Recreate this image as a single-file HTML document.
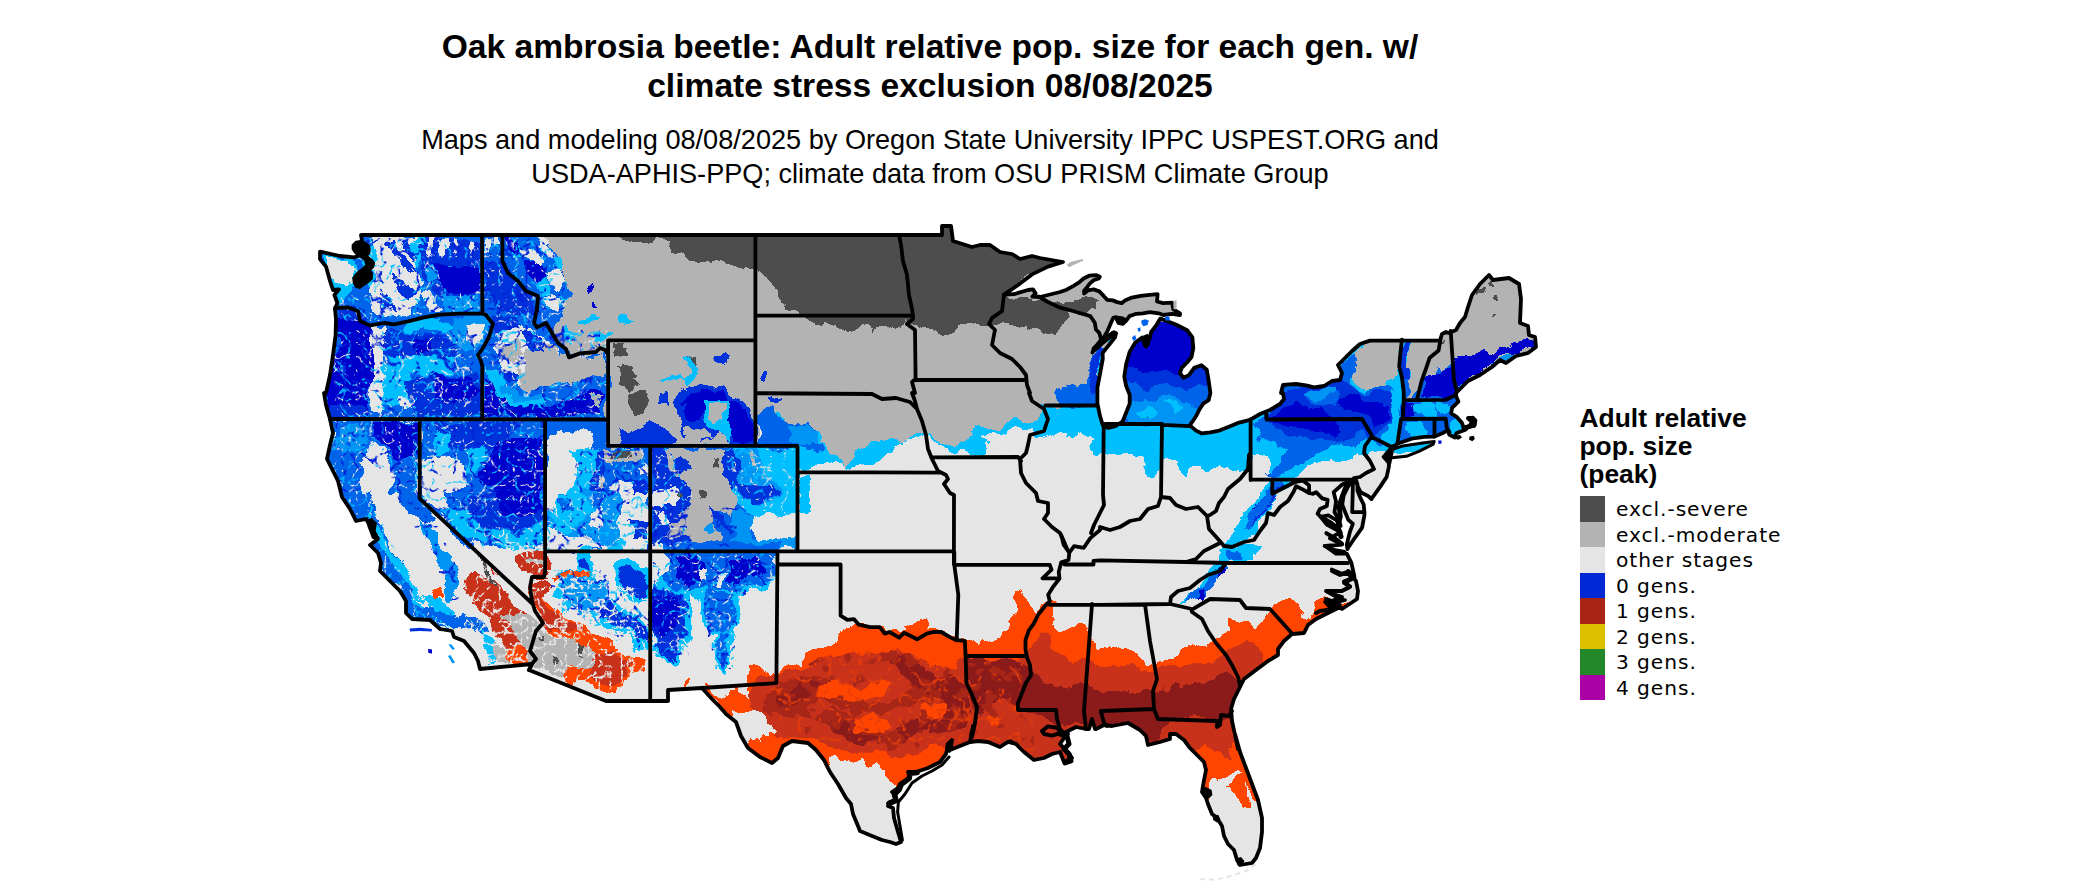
<!DOCTYPE html>
<html><head><meta charset="utf-8"><title>Oak ambrosia beetle</title>
<style>
html,body{margin:0;padding:0;background:#fff;}
body{width:2100px;height:892px;position:relative;overflow:hidden;font-family:"Liberation Sans",sans-serif;color:#000;}
#title{position:absolute;left:330px;width:1200px;top:26.8px;text-align:center;font-weight:bold;font-size:33.6px;line-height:39.4px;}
#sub{position:absolute;left:330px;width:1200px;top:123.3px;text-align:center;font-size:27.13px;line-height:33.3px;}
#legt{position:absolute;left:1579.5px;top:403.5px;font-weight:bold;font-size:26.4px;line-height:28.2px;white-space:nowrap;}
#leg{position:absolute;left:1580px;top:496px;}
#leg div{height:25.5px;position:relative;}
#leg i{position:absolute;left:0;top:0;width:25px;height:25.5px;display:block;}
#leg span{position:absolute;left:36px;top:1px;font-family:"DejaVu Sans","Liberation Sans",sans-serif;font-size:20.2px;letter-spacing:0.93px;line-height:25.5px;white-space:nowrap;}
svg{position:absolute;left:0;top:0;}
</style></head><body>
<div id="title">Oak ambrosia beetle: Adult relative pop. size for each gen. w/<br>climate stress exclusion 08/08/2025</div>
<div id="sub">Maps and modeling 08/08/2025 by Oregon State University IPPC USPEST.ORG and<br>USDA-APHIS-PPQ; climate data from OSU PRISM Climate Group</div>
<div id="legt">Adult relative<br>pop. size<br>(peak)</div>
<div id="leg">
<div><i style="background:#4d4d4d"></i><span>excl.-severe</span></div>
<div><i style="background:#b3b3b3"></i><span>excl.-moderate</span></div>
<div><i style="background:#e5e5e5"></i><span>other stages</span></div>
<div><i style="background:#0028d4"></i><span>0 gens.</span></div>
<div><i style="background:#aa2416"></i><span>1 gens.</span></div>
<div><i style="background:#ddc000"></i><span>2 gens.</span></div>
<div><i style="background:#22882a"></i><span>3 gens.</span></div>
<div><i style="background:#aa00a5"></i><span>4 gens.</span></div>
</div>

<svg width="2100" height="892" viewBox="0 0 2100 892">
<defs><clipPath id="us"><path d="M320.0,251.6 L340.0,256.0 L354.0,257.4 L360.0,255.0 L364.0,249.0 L362.0,240.6 L361.0,235.0 L942.0,235.0 L942.0,226.0 L951.0,226.0 L953.0,241.0 L972.0,247.0 L980.0,245.0 L990.0,245.0 L1000.0,252.0 L1012.0,254.0 L1020.0,259.0 L1032.0,256.0 L1040.0,258.0 L1063.0,262.0 L1048.0,266.6 L1032.0,274.4 L1018.0,285.0 L1004.0,294.6 L1014.0,294.2 L1028.0,290.0 L1033.0,289.4 L1035.6,293.4 L1032.4,296.6 L1040.0,297.0 L1060.0,292.0 L1066.7,289.7 L1073.5,285.8 L1079.1,282.4 L1083.6,278.5 L1089.2,275.7 L1095.9,275.1 L1099.8,276.8 L1098.7,278.5 L1093.6,280.2 L1089.7,283.6 L1086.9,287.5 L1084.1,290.8 L1084.1,293.6 L1088.0,290.3 L1093.6,289.4 L1099.3,291.4 L1103.7,295.9 L1107.1,299.8 L1112.7,300.4 L1117.2,302.1 L1121.7,303.2 L1125.0,300.4 L1131.8,297.6 L1140.7,295.9 L1149.7,294.8 L1157.6,294.2 L1157.0,301.5 L1163.2,303.2 L1172.1,302.6 L1173.3,309.3 L1180.0,313.3 L1180.0,315.0 L1172.1,313.8 L1163.2,315.0 L1158.7,313.3 L1149.7,312.1 L1143.0,313.3 L1136.3,313.8 L1129.5,316.1 L1126.2,320.6 L1122.8,323.9 L1118.3,322.8 L1116.1,317.2 L1113.3,317.8 L1110.5,323.9 L1107.1,331.8 L1103.7,337.4 L1100.4,340.7 L1097.0,345.2 L1093.6,349.7 L1092.5,352.5 L1095.9,346.9 L1100.4,343.2 L1107.1,337.6 L1112.7,333.1 L1116.1,333.1 L1115.0,337.4 L1110.5,343.0 L1106.0,348.6 L1102.6,353.1 L1102.8,358.9 L1100.1,373.3 L1097.4,387.6 L1097.4,403.7 L1100.1,416.3 L1102.8,425.3 L1108.1,428.0 L1115.3,426.2 L1122.5,421.7 L1126.1,412.7 L1129.7,403.7 L1129.7,394.8 L1126.1,385.8 L1124.3,376.8 L1126.1,364.3 L1129.7,351.7 L1135.1,342.8 L1142.2,337.4 L1145.8,346.4 L1149.4,339.2 L1151.2,332.0 L1156.6,324.8 L1160.2,318.6 L1165.5,320.4 L1176.3,324.8 L1187.1,330.2 L1192.4,337.4 L1193.3,348.1 L1191.5,357.1 L1187.1,362.5 L1181.7,367.9 L1179.9,373.3 L1183.5,377.7 L1188.9,375.1 L1194.2,367.9 L1201.4,365.2 L1206.8,369.7 L1208.6,380.4 L1210.4,393.0 L1208.6,400.2 L1203.2,403.7 L1199.6,409.1 L1196.0,416.3 L1192.4,421.7 L1189.7,425.3 L1196.0,430.6 L1201.4,433.3 L1210.4,432.4 L1219.3,430.6 L1230.1,426.2 L1239.1,422.6 L1250.0,419.9 L1260.0,414.0 L1270.0,410.0 L1280.0,404.0 L1284.0,399.0 L1283.0,393.0 L1281.0,393.0 L1283.0,385.0 L1296.0,384.0 L1306.0,385.4 L1314.0,387.4 L1324.0,386.0 L1332.0,381.0 L1340.0,380.0 L1342.0,373.0 L1338.0,365.0 L1348.0,355.0 L1352.0,351.0 L1360.0,344.0 L1370.0,340.6 L1440.0,340.6 L1442.0,334.0 L1446.0,332.0 L1449.0,333.0 L1456.0,330.0 L1460.0,323.0 L1465.0,317.0 L1468.0,307.0 L1472.0,295.0 L1480.0,284.0 L1489.0,275.0 L1493.0,280.0 L1509.0,278.0 L1519.0,284.0 L1521.0,299.0 L1520.0,323.0 L1528.0,326.0 L1529.0,335.0 L1535.0,337.0 L1536.0,347.0 L1528.0,353.0 L1516.0,356.0 L1506.0,363.0 L1500.0,360.0 L1492.0,367.0 L1480.0,375.0 L1468.0,381.0 L1460.0,389.0 L1456.0,393.0 L1455.7,395.3 L1458.4,401.6 L1452.1,407.9 L1451.2,413.3 L1456.6,416.8 L1462.0,423.1 L1463.7,427.6 L1469.1,426.7 L1474.5,425.8 L1475.4,420.4 L1472.7,417.7 L1468.2,418.3 L1471.8,422.2 L1470.9,424.0 L1465.5,429.8 L1456.6,433.0 L1454.8,437.5 L1449.4,434.8 L1447.6,430.3 L1442.2,433.3 L1434.5,436.6 L1424.3,436.9 L1411.7,438.7 L1397.4,443.7 L1392.0,447.7 L1384.8,458.1 L1389.3,463.5 L1392.9,446.1 L1383.6,456.9 L1388.2,458.4 L1389.0,466.1 L1386.7,476.9 L1380.6,486.1 L1372.9,496.8 L1371.4,499.1 L1368.3,496.1 L1360.6,492.2 L1357.5,486.1 L1356.0,479.9 L1357.5,484.5 L1357.5,490.7 L1360.6,498.4 L1363.7,504.5 L1364.4,512.2 L1364.4,515.3 L1362.1,527.6 L1354.5,538.3 L1348.3,547.5 L1347.5,549.1 L1346.8,544.5 L1349.8,532.2 L1352.9,523.7 L1348.3,519.9 L1345.2,512.2 L1342.2,504.5 L1343.7,495.3 L1348.3,486.1 L1354.5,479.6 L1342.2,484.5 L1333.7,492.2 L1336.0,501.4 L1334.5,512.2 L1339.1,519.9 L1340.6,526.0 L1336.0,519.9 L1328.3,515.3 L1320.7,516.8 L1326.8,524.5 L1340.6,532.2 L1329.9,538.3 L1342.2,544.5 L1325.3,546.0 L1336.0,553.7 L1345.2,553.7 L1346.8,553.7 L1351.4,562.9 L1354.5,577.0 L1348.0,571.0 L1356.0,581.0 L1358.0,591.0 L1357.0,599.0 L1342.0,609.0 L1340.0,607.0 L1328.0,613.0 L1316.0,619.0 L1308.0,625.0 L1304.0,633.0 L1292.0,634.0 L1284.0,641.0 L1278.0,649.0 L1278.0,655.0 L1268.0,661.0 L1260.0,667.0 L1252.0,673.0 L1244.0,679.0 L1240.0,687.0 L1234.0,699.0 L1231.0,709.0 L1232.0,721.0 L1235.0,735.0 L1238.0,749.0 L1235.0,734.0 L1240.0,752.0 L1246.0,768.0 L1252.0,784.0 L1258.0,800.0 L1262.0,818.0 L1262.0,832.0 L1260.0,848.0 L1256.0,858.0 L1252.0,863.0 L1240.0,865.0 L1237.0,860.0 L1234.0,850.0 L1228.0,844.0 L1224.0,836.0 L1222.0,826.0 L1217.0,818.0 L1212.0,814.0 L1208.0,804.0 L1206.0,798.0 L1202.0,792.0 L1204.0,780.0 L1206.0,770.0 L1204.0,762.0 L1198.0,756.0 L1190.0,748.0 L1184.0,740.0 L1176.0,734.0 L1170.0,734.0 L1170.0,739.0 L1160.0,742.0 L1148.0,745.0 L1146.0,736.0 L1140.0,730.0 L1128.0,723.0 L1112.0,726.0 L1104.0,725.0 L1096.0,729.0 L1095.0,729.0 L1092.0,719.0 L1089.0,729.0 L1086.0,729.0 L1076.0,727.0 L1064.0,733.0 L1068.0,734.0 L1064.0,738.0 L1060.0,744.0 L1068.0,752.0 L1072.0,758.0 L1064.0,762.0 L1060.0,752.0 L1052.0,754.0 L1044.0,758.0 L1034.0,760.0 L1024.0,752.0 L1016.0,744.0 L1008.0,742.0 L1000.0,747.0 L988.0,742.0 L978.0,741.0 L970.0,742.0 L960.0,746.0 L950.0,750.0 L952.0,740.0 L948.0,744.0 L946.0,754.0 L940.0,762.0 L928.0,768.0 L916.0,772.0 L908.0,772.0 L910.0,778.0 L900.0,784.0 L898.0,788.0 L892.0,792.0 L895.0,794.0 L896.0,800.0 L890.0,802.0 L888.0,806.0 L893.0,808.0 L894.0,818.0 L898.0,832.0 L901.0,842.0 L896.0,844.0 L890.0,842.0 L882.0,840.0 L872.0,836.0 L860.0,831.0 L858.0,826.0 L853.0,814.0 L851.0,804.0 L846.0,798.0 L838.0,784.0 L830.0,772.0 L824.0,760.0 L816.0,750.0 L808.0,743.0 L792.0,741.0 L783.0,746.0 L778.0,758.0 L772.0,763.0 L760.0,757.0 L748.0,748.0 L741.0,736.0 L736.0,722.0 L726.0,714.0 L720.0,707.0 L712.0,699.0 L702.0,688.0 L668.0,690.0 L668.0,701.0 L650.0,701.0 L606.0,701.0 L529.0,670.0 L532.0,664.0 L480.0,669.0 L478.0,661.0 L474.0,653.0 L464.0,641.0 L454.0,637.0 L452.0,631.0 L440.0,629.0 L430.0,620.0 L412.0,619.0 L406.0,613.0 L406.0,601.0 L400.0,591.0 L388.0,579.0 L380.0,571.0 L380.0,571.0 L381.0,563.0 L378.0,553.0 L370.0,545.0 L378.0,539.0 L372.0,529.0 L366.0,519.0 L356.0,521.0 L350.0,509.0 L342.0,497.0 L338.0,481.0 L332.0,469.0 L327.0,459.0 L330.0,445.0 L333.0,433.0 L330.0,419.0 L326.0,405.0 L324.0,393.0 L326.0,393.0 L330.0,375.0 L333.0,355.0 L335.6,335.0 L336.0,319.0 L335.0,309.0 L337.4,303.0 L334.4,295.0 L339.0,289.4 L333.0,290.0 L330.0,281.0 L326.0,266.6 L320.0,259.0Z M1392.0,449.5 L1402.8,445.9 L1422.5,443.0 L1434.2,441.6 L1433.3,444.1 L1418.9,451.3 L1406.4,456.3 L1384.8,458.5 L1387.0,453.6Z"/></clipPath></defs>
<filter id="rough" x="280" y="200" width="1300" height="692" filterUnits="userSpaceOnUse" color-interpolation-filters="sRGB"><feTurbulence type="fractalNoise" baseFrequency="0.045" numOctaves="4" seed="7" result="n"/><feDisplacementMap in="SourceGraphic" in2="n" scale="17" xChannelSelector="R" yChannelSelector="G"/></filter>
<g clip-path="url(#us)"><g filter="url(#rough)" shape-rendering="crispEdges">
<rect x="250" y="170" width="1360" height="760" fill="#e5e5e5"/>
<path fill="#00bfff" d="M775.0,200.0 L775.0,470.0 L797.4,470.0 L810.0,467.0 L824.0,462.0 L840.0,463.4 L848.0,470.0 L860.0,465.4 L872.0,463.0 L876.0,460.0 L886.0,459.0 L896.0,457.0 L900.0,445.0 L912.0,437.4 L922.0,432.4 L930.0,436.0 L940.0,447.0 L946.0,451.0 L956.0,454.0 L960.0,449.4 L976.0,453.0 L986.0,451.0 L988.0,443.0 L980.0,435.4 L996.0,433.0 L1010.0,435.0 L1018.0,429.0 L1032.0,431.0 L1034.0,441.0 L1048.0,439.0 L1060.0,435.0 L1072.0,436.0 L1086.0,433.0 L1094.0,439.0 L1088.0,449.0 L1096.0,455.0 L1103.0,453.0 L1140.0,455.0 L1148.0,473.0 L1154.0,477.0 L1160.0,469.0 L1166.0,461.0 L1176.0,461.0 L1180.0,471.0 L1186.0,479.0 L1190.0,469.0 L1200.0,465.0 L1208.0,471.0 L1220.0,467.0 L1230.0,467.0 L1236.0,473.0 L1244.0,469.0 L1250.6,463.0 L1254.0,457.0 L1264.0,455.0 L1270.0,463.0 L1268.0,477.0 L1264.0,487.0 L1256.0,501.0 L1244.0,513.0 L1232.0,533.0 L1220.0,553.0 L1214.0,565.0 L1180.0,603.0 L1190.0,601.0 L1200.0,591.0 L1208.0,579.0 L1228.0,563.0 L1234.0,553.0 L1240.0,545.0 L1248.0,537.0 L1258.0,529.0 L1264.0,517.0 L1272.0,505.0 L1280.0,495.0 L1288.0,487.0 L1292.0,478.0 L1300.0,473.0 L1310.0,463.0 L1320.0,459.0 L1332.0,457.0 L1340.0,461.0 L1348.0,459.0 L1356.0,455.0 L1364.0,457.0 L1370.0,455.0 L1372.0,451.0 L1380.0,449.0 L1388.0,453.0 L1400.0,453.0 L1560.0,450.0 L1560.0,200.0Z"/>
<path fill="#0064ea" d="M300.0,200.0 L640.0,200.0 L640.0,445.0 L797.0,445.0 L797.0,551.0 L545.0,551.0 L545.0,548.0 L470.0,548.0 L419.5,500.0 L419.5,419.0 L300.0,419.0Z"/>
<path fill="#b3b3b3" d="M536.0,200.0 L536.0,235.0 L554.0,249.0 L560.0,267.0 L568.0,283.0 L572.0,295.0 L568.0,309.0 L560.0,319.0 L552.0,333.0 L558.0,343.0 L566.0,349.0 L569.0,357.4 L580.0,355.0 L596.0,353.0 L608.0,354.2 L608.1,445.9 L755.4,445.9 L755.0,416.0 L770.0,415.0 L780.0,412.0 L788.0,423.0 L804.0,431.0 L816.0,433.0 L826.0,447.0 L840.0,459.0 L846.0,469.0 L852.0,449.0 L868.0,445.0 L880.0,437.0 L900.0,436.0 L904.0,443.0 L912.0,433.0 L922.0,431.0 L930.0,433.0 L940.0,445.0 L956.0,447.0 L968.0,439.0 L972.0,429.0 L986.0,427.0 L1000.0,430.0 L1016.0,421.0 L1032.0,423.0 L1038.0,413.0 L1040.0,407.4 L1040.0,405.5 L1098.3,405.5 L1104.6,351.7 L1111.7,333.8 L1126.1,321.2 L1147.6,315.0 L1165.5,315.9 L1183.5,315.9 L1183.5,280.0 L1200.0,200.0Z"/>
<path fill="#b3b3b3" d="M1349.0,361.2 L1359.7,346.9 L1370.5,338.8 L1401.0,338.8 L1399.2,355.9 L1398.3,366.6 L1397.4,373.8 L1393.8,381.0 L1388.4,381.9 L1383.0,390.8 L1368.7,388.1 L1354.3,381.0 L1347.2,372.0Z M1409.0,338.8 L1440.4,338.8 L1438.6,350.5 L1429.7,357.7 L1426.1,368.4 L1422.5,379.2 L1415.3,381.0 L1411.7,391.7 L1407.3,397.1 L1407.3,379.2 L1408.1,364.8 L1409.0,352.3Z M1440.4,338.8 L1443.1,332.6 L1451.2,329.9 L1453.0,363.0 L1447.6,364.8 L1442.2,370.2 L1436.8,366.6 L1433.3,373.8 L1427.9,379.2 L1424.3,373.8 L1429.7,357.7 L1438.6,350.5Z M1450.7,248.3 L1550.0,248.3 L1550.0,373.8 L1454.8,380.1 L1453.0,363.0 L1450.7,329.9Z"/>
<path fill="#4d4d4d" d="M618.0,215.0 L618.0,235.0 L624.0,240.0 L640.0,242.0 L652.0,245.0 L660.0,240.0 L668.0,242.0 L670.0,250.0 L682.0,252.0 L688.0,258.0 L700.0,262.0 L720.0,263.0 L740.0,266.0 L755.0,270.0 L766.0,281.0 L778.0,291.0 L786.0,303.0 L788.0,311.0 L800.0,313.0 L810.0,318.0 L824.0,323.0 L844.0,330.0 L860.0,325.0 L874.0,334.0 L890.0,327.0 L906.0,319.0 L912.0,322.0 L928.0,327.0 L940.0,333.0 L956.0,330.0 L960.0,325.0 L988.0,322.0 L996.0,323.0 L1016.0,329.0 L1028.0,327.0 L1044.0,334.0 L1060.0,330.0 L1070.0,319.0 L1068.0,313.0 L1090.0,311.0 L1099.0,303.0 L1096.0,297.0 L1072.0,301.0 L1048.0,303.0 L1040.0,299.0 L1032.0,304.0 L1024.0,298.0 L1004.0,299.0 L1020.0,283.0 L1064.0,261.0 L1064.0,195.0Z"/>
<path fill="#00bfff" d="M321.3,253.5 L350.3,256.6 L357.9,265.7 L356.4,284.0 L345.7,291.6 L338.1,305.4 L335.1,311.5 L332.0,293.2 L325.9,270.3Z"/>
<path fill="#e5e5e5" d="M325.9,256.6 L345.7,258.1 L353.4,265.7 L351.8,281.0 L342.7,284.0 L333.5,277.9 L327.4,265.7Z"/>
<path fill="#e5e5e5" d="M371.6,238.3 L422.0,237.5 L420.4,250.5 L412.8,265.7 L418.9,281.0 L422.0,293.2 L415.9,305.4 L406.7,314.5 L391.5,317.6 L379.3,317.6 L371.6,305.4 L368.6,288.6 L376.2,273.4 L371.6,258.1Z"/>
<path fill="#00bfff" d="M365.5,250.5 L373.2,247.4 L376.2,273.4 L368.6,288.6 L364.0,277.9Z M409.8,239.8 L422.0,238.3 L422.0,255.1 L415.9,265.7 L411.3,253.5Z"/>
<path fill="#0032dc" d="M385.4,245.9 L394.5,244.4 L409.8,259.6 L415.9,270.3 L406.7,270.3 L397.6,258.1Z M391.5,277.9 L406.7,281.0 L418.9,291.6 L409.8,296.2 L397.6,288.6Z M379.3,293.2 L391.5,299.3 L397.6,311.5 L385.4,311.5Z M400.6,241.3 L406.7,239.8 L418.9,255.1 L412.8,258.1Z M339.6,308.4 L361.0,305.4 L371.6,317.6 L364.0,323.7 L345.7,320.6Z"/>
<path fill="#0032dc" d="M422.0,258.1 L437.2,253.5 L480.6,255.1 L480.6,305.4 L460.1,305.4 L444.8,299.3 L429.6,293.2 L420.4,281.0Z M422.0,237.5 L480.6,237.5 L480.6,256.6 L422.0,259.6Z"/>
<path fill="#0000cd" d="M434.1,265.7 L446.3,262.7 L467.7,265.7 L480.6,270.3 L480.6,291.6 L467.7,293.2 L452.4,291.6 L437.2,285.5 L431.1,274.9Z"/>
<path fill="#e5e5e5" d="M426.5,237.5 L432.6,237.5 L434.1,255.1 L428.0,256.6Z M441.8,237.5 L446.3,237.5 L447.1,252.0 L442.5,253.5Z M454.0,237.5 L458.5,237.5 L458.5,250.5 L454.7,250.5Z M467.7,237.5 L472.3,237.5 L472.3,249.0 L468.4,249.0Z M422.0,293.2 L429.6,294.7 L443.3,309.9 L437.2,311.5 L425.0,302.3Z"/>
<path fill="#0094f5" d="M443.3,293.2 L467.7,294.7 L480.6,293.2 L480.6,311.5 L444.8,313.0Z M425.0,270.3 L434.1,265.7 L434.1,284.0 L425.0,287.1Z"/>
<path fill="#e5e5e5" d="M485.2,237.5 L490.5,237.5 L491.3,250.5 L486.0,252.0Z M494.4,237.5 L499.7,237.5 L500.5,247.4 L495.1,249.0Z"/>
<path fill="#0032dc" d="M484.5,258.1 L502.7,262.7 L513.4,281.0 L528.7,296.2 L534.8,311.5 L521.0,317.6 L505.8,311.5 L495.1,296.2 L484.5,288.6Z"/>
<path fill="#e5e5e5" d="M521.0,247.4 L531.7,245.9 L543.9,259.6 L537.8,264.2 L525.6,256.6Z M547.0,270.3 L559.1,268.8 L568.3,284.0 L559.1,291.6 L550.0,284.0Z M542.4,296.2 L556.1,293.2 L568.3,299.3 L559.1,311.5 L547.0,308.4Z M537.8,238.3 L550.0,244.4 L556.1,259.6 L548.5,258.1 L540.9,247.4Z"/>
<path fill="#00bfff" d="M510.4,244.4 L519.5,242.9 L524.1,258.1 L513.4,259.6Z M537.8,281.0 L547.0,277.9 L550.0,293.2 L540.9,296.2Z M550.0,258.1 L559.1,259.6 L563.7,270.3 L556.1,268.8Z"/>
<path fill="#0000cd" d="M528.7,264.2 L540.9,262.7 L547.0,273.4 L537.8,281.0 L528.7,274.9Z M505.8,239.8 L516.5,238.3 L519.5,250.5 L510.4,253.5Z"/>
<path fill="#00bfff" d="M574.0,320.0 L588.0,315.0 L598.0,316.0 L594.0,320.0 L580.0,324.0Z M614.0,316.0 L626.0,312.0 L636.0,318.0 L624.0,322.0Z M590.0,334.0 L610.0,331.0 L616.0,335.0 L596.0,340.0Z M566.0,327.0 L576.0,335.0 L572.0,345.0 L564.0,339.0Z"/>
<path fill="#0000cd" d="M588.0,287.0 L592.0,285.0 L593.0,291.0 L589.0,292.0Z M594.0,303.0 L598.0,303.0 L598.0,309.0 L594.0,309.0Z"/>
<path fill="#e5e5e5" d="M500.0,333.0 L520.0,327.0 L540.0,335.0 L556.0,351.0 L566.0,367.0 L560.0,383.0 L540.0,387.0 L520.0,385.0 L504.0,367.0 L498.0,347.0Z"/>
<path fill="#b3b3b3" d="M502.0,343.0 L516.0,339.0 L520.0,355.0 L508.0,363.0Z M524.0,363.0 L548.0,355.0 L564.0,371.0 L556.0,385.0 L536.0,387.0 L520.0,379.0Z M538.0,337.0 L552.0,343.0 L556.0,355.0 L544.0,353.0Z"/>
<path fill="#4d4d4d" d="M546.0,369.0 L554.0,371.0 L552.0,379.0 L545.0,377.0Z M524.0,361.0 L528.0,360.0 L529.0,367.0 L525.0,368.0Z"/>
<path fill="#0032dc" d="M520.0,331.0 L536.0,335.0 L546.0,351.0 L536.0,355.0 L524.0,345.0Z M508.0,369.0 L520.0,375.0 L516.0,385.0 L506.0,381.0Z M492.0,315.0 L512.0,319.0 L520.0,327.0 L500.0,333.0 L490.0,327.0Z"/>
<path fill="#00bfff" d="M490.0,367.0 L504.0,369.0 L508.0,385.0 L496.0,391.0 L488.0,381.0Z"/>
<path fill="#0000cd" d="M482.9,378.9 L516.5,406.3 L559.1,404.8 L589.6,386.5 L603.4,394.1 L603.4,417.0 L482.9,417.0Z"/>
<path fill="#00bfff" d="M486.0,365.1 L496.6,374.3 L502.7,391.1 L525.6,399.4 L543.9,397.2 L547.0,401.7 L528.7,407.1 L501.2,401.7 L489.0,383.4Z"/>
<path fill="#0094f5" d="M498.2,386.5 L525.6,394.9 L542.4,394.1 L542.4,399.4 L525.6,402.5 L501.2,397.2Z"/>
<path fill="#b3b3b3" d="M508.8,356.0 L589.6,356.0 L603.4,365.1 L603.4,377.3 L586.6,372.8 L568.3,386.5 L559.1,381.9 L543.9,374.3 L528.7,383.4 L519.5,378.9 L513.4,365.1Z"/>
<path fill="#e5e5e5" d="M513.4,359.0 L537.8,357.5 L547.0,365.1 L528.7,372.8 L516.5,368.2Z"/>
<path fill="#4d4d4d" d="M543.9,368.2 L553.0,368.2 L553.0,374.3 L545.4,374.3Z"/>
<path fill="#0032dc" d="M568.3,365.1 L589.6,362.1 L589.6,371.2 L574.4,375.8Z"/>
<path fill="#b3b3b3" d="M588.1,391.1 L598.8,394.1 L603.4,409.4 L595.7,407.8Z"/>
<path fill="#0000cd" d="M330.5,356.0 L371.6,356.0 L371.6,386.5 L367.1,417.0 L329.0,417.0 L324.4,398.7 L329.0,378.9Z M336.6,317.6 L364.0,323.7 L371.6,326.7 L371.6,356.0 L335.1,356.0Z"/>
<path fill="#0032dc" d="M330.5,401.7 L367.1,401.7 L367.1,417.0 L329.0,417.0Z"/>
<path fill="#e5e5e5" d="M371.6,356.0 L385.4,356.0 L386.9,378.9 L380.8,409.4 L371.6,409.4Z M371.6,326.7 L382.3,325.2 L385.4,356.0 L371.6,356.0Z"/>
<path fill="#00bfff" d="M385.4,365.1 L406.7,368.2 L415.9,380.4 L406.7,401.7 L391.5,406.3 L382.3,401.7 L386.9,378.9Z M406.7,320.6 L437.2,317.6 L452.4,323.7 L446.3,332.8 L422.0,331.3 L406.7,329.8Z M391.5,356.0 L452.4,356.0 L452.4,371.2 L437.2,378.9 L415.9,374.3 L399.1,368.2Z"/>
<path fill="#0032dc" d="M382.3,329.8 L406.7,331.3 L437.2,335.9 L452.4,342.0 L452.4,356.0 L385.4,356.0Z M406.7,378.9 L437.2,375.8 L479.9,374.3 L479.9,417.0 L415.9,417.0 L409.8,401.7Z"/>
<path fill="#0000cd" d="M437.2,377.3 L467.7,375.8 L475.3,394.1 L452.4,406.3 L434.1,395.6Z M406.7,335.9 L431.1,338.9 L437.2,351.1 L415.9,354.1Z"/>
<path fill="#e5e5e5" d="M466.2,328.2 L478.4,326.7 L484.5,335.9 L475.3,342.0 L466.2,337.4Z M397.6,398.7 L406.7,397.2 L409.8,407.8 L400.6,409.4Z"/>
<path fill="#0094f5" d="M452.4,317.6 L490.5,314.5 L487.5,326.7 L482.9,345.0 L467.7,351.1 L452.4,342.0Z"/>
<path fill="#e5e5e5" d="M466.2,328.2 L478.4,326.7 L484.5,335.9 L475.3,342.0 L466.2,337.4Z"/>
<path fill="#0064ea" d="M329.0,420.0 L417.4,420.0 L417.4,492.0 L391.5,492.0 L391.5,462.7 L385.4,447.5 L373.2,441.4 L364.0,447.5 L357.9,462.7 L361.0,492.0 L339.6,492.0 L325.9,462.7 L333.5,441.4Z"/>
<path fill="#0000cd" d="M373.2,421.5 L417.4,421.5 L417.4,453.6 L397.6,456.6 L382.3,441.4 L373.2,435.3Z"/>
<path fill="#0094f5" d="M338.1,427.6 L361.0,424.6 L367.1,441.4 L350.3,450.5 L336.6,441.4Z"/>
<path fill="#0064ea" d="M338.1,492.0 L368.6,492.0 L379.3,519.4 L391.5,540.8 L403.7,565.2 L415.9,589.6 L422.0,607.9 L437.2,623.1 L452.4,628.0 L409.8,628.0 L403.7,607.9 L397.6,589.6 L379.3,568.2 L376.2,553.0 L365.5,531.6 L353.4,516.4Z"/>
<path fill="#00bfff" d="M367.1,501.1 L376.2,522.5 L391.5,543.8 L406.7,571.3 L420.4,598.7 L425.0,610.9 L420.4,607.9 L403.7,577.4 L388.4,553.0 L373.2,530.1Z"/>
<path fill="#0064ea" d="M397.6,492.0 L420.4,492.0 L420.4,501.1 L437.2,521.0 L431.1,527.1 L415.9,516.4 L403.7,507.2Z"/>
<path fill="#0094f5" d="M418.9,519.4 L437.2,534.7 L449.4,556.0 L458.5,577.4 L454.0,598.7 L446.3,601.8 L444.8,577.4 L437.2,557.5 L425.0,537.7Z"/>
<path fill="#0064ea" d="M408.0,605.0 L424.0,609.0 L452.0,613.0 L480.0,621.0 L490.0,629.0 L480.0,633.0 L456.0,625.0 L430.0,621.0 L412.0,619.0Z"/>
<path fill="#00bfff" d="M480.0,631.0 L492.0,635.0 L500.0,655.0 L496.0,667.0 L488.0,665.0 L486.0,647.0Z M420.0,597.0 L440.0,601.0 L452.0,613.0 L430.0,611.0Z"/>
<path fill="#c8321a" d="M464.6,577.4 L479.9,574.3 L492.1,586.5 L504.3,595.7 L498.2,607.9 L482.9,601.8 L467.7,592.6Z M473.8,598.7 L498.2,607.9 L513.4,601.8 L525.6,614.0 L516.5,623.1 L498.2,620.0 L479.9,610.9Z M489.0,556.0 L501.2,559.1 L504.3,571.3 L495.1,574.3Z M466.0,579.0 L492.0,577.0 L502.0,591.0 L516.0,605.0 L520.0,619.0 L504.0,617.0 L488.0,605.0 L472.0,595.0Z M490.0,617.0 L512.0,621.0 L524.0,637.0 L528.0,655.0 L516.0,661.0 L508.0,647.0 L496.0,631.0Z"/>
<path fill="#b3b3b3" d="M500.0,615.0 L520.0,613.0 L538.0,621.0 L534.0,637.0 L530.0,651.0 L520.0,643.0 L512.0,627.0Z M492.0,637.0 L508.0,647.0 L510.0,664.0 L500.0,664.6 L494.0,651.0Z"/>
<path fill="#ff4500" d="M508.0,647.0 L520.0,643.0 L530.0,657.0 L528.0,664.0 L510.0,663.4Z M429.6,597.2 L443.3,592.6 L444.8,598.7 L432.6,601.8Z"/>
<path fill="#4d4d4d" d="M476.8,556.0 L482.9,557.5 L495.1,583.5 L498.2,589.6 L492.1,588.0 L482.9,571.3Z"/>
<path fill="#0032dc" d="M437.2,421.5 L513.4,421.5 L510.4,441.4 L482.9,450.5 L452.4,447.5 L434.1,435.3Z"/>
<path fill="#0000cd" d="M498.2,439.8 L542.4,435.3 L542.4,492.0 L490.5,492.0 L482.9,471.9 L489.0,453.6Z"/>
<path fill="#e5e5e5" d="M422.0,462.7 L437.2,456.6 L452.4,462.7 L467.7,471.9 L464.6,487.1 L452.4,492.0 L422.0,492.0Z"/>
<path fill="#00bfff" d="M434.1,435.3 L446.3,432.2 L449.4,453.6 L437.2,456.6Z M467.7,450.5 L482.9,447.5 L479.9,471.9 L467.7,474.9Z"/>
<path fill="#0032dc" d="M467.7,492.0 L542.4,492.0 L542.4,522.5 L513.4,531.6 L482.9,525.5 L467.7,510.3Z"/>
<path fill="#0000cd" d="M490.5,492.0 L542.4,492.0 L542.4,510.3 L513.4,519.4 L498.2,510.3Z"/>
<path fill="#00bfff" d="M437.2,504.2 L467.7,510.3 L482.9,527.1 L513.4,533.2 L542.4,524.0 L542.4,542.3 L513.4,549.9 L490.5,543.8 L467.7,537.7 L446.3,519.4Z"/>
<path fill="#e5e5e5" d="M422.0,492.0 L444.8,492.0 L452.4,505.7 L437.2,508.8 L423.5,501.1Z M472.3,542.3 L490.5,545.4 L513.4,551.5 L542.4,543.8 L550.0,577.4 L531.7,601.8Z"/>
<path fill="#c8321a" d="M525.6,549.9 L542.4,548.4 L550.0,565.2 L543.9,577.4 L534.8,577.4 L521.0,571.3 L516.5,559.1Z"/>
<path fill="#b3b3b3" d="M528.7,562.1 L539.3,559.1 L540.9,565.2 L531.7,566.7Z"/>
<path fill="#e5e5e5" d="M547.0,432.2 L571.3,429.2 L589.6,435.3 L592.7,462.7 L586.6,492.0 L547.0,492.0Z"/>
<path fill="#e5e5e5" d="M546.1,447.6 L570.5,447.6 L579.6,462.9 L570.5,493.4 L558.3,501.0 L546.1,497.9Z"/>
<path fill="#00bfff" d="M570.5,447.6 L601.0,447.6 L597.9,470.5 L585.7,493.4 L570.5,493.4 L579.6,462.9Z M546.1,501.0 L570.5,497.9 L567.4,525.4 L546.1,531.5Z"/>
<path fill="#0032dc" d="M597.9,449.1 L607.1,449.1 L607.1,485.7 L597.9,510.1 L585.7,537.6 L573.5,546.7 L570.5,531.5 L585.7,501.0 L593.4,478.1Z"/>
<path fill="#b3b3b3" d="M607.1,447.6 L646.7,447.6 L646.7,459.8 L631.5,461.3 L607.1,458.3Z M601.0,475.1 L607.1,475.1 L605.5,490.3 L601.0,490.3Z M591.8,507.1 L597.9,507.1 L597.9,525.4 L591.8,525.4Z"/>
<path fill="#4d4d4d" d="M614.7,449.1 L634.5,449.1 L634.5,455.2 L614.7,455.2Z"/>
<path fill="#e5e5e5" d="M611.6,485.7 L631.5,482.7 L649.8,485.7 L649.8,551.3 L601.0,551.3 L604.0,525.4 L616.2,504.0Z M634.5,465.9 L646.7,465.9 L646.7,475.1 L634.5,475.1Z"/>
<path fill="#0032dc" d="M628.4,522.3 L646.7,522.3 L646.7,537.6 L631.5,539.1Z M629.9,479.6 L648.2,481.2 L646.7,493.4 L634.5,493.4Z"/>
<path fill="#00bfff" d="M604.0,534.5 L619.3,531.5 L625.4,546.7 L607.1,549.8Z"/>
<path fill="#e5e5e5" d="M546.1,534.5 L564.4,531.5 L576.6,537.6 L570.5,551.3 L546.1,551.3Z"/>
<path fill="#0032dc" d="M651.3,447.6 L666.5,447.6 L666.5,461.3 L674.1,475.1 L686.3,479.6 L692.4,491.8 L686.3,507.1 L677.2,507.1 L677.2,488.8 L652.8,488.8Z M652.8,507.1 L686.3,507.1 L680.2,522.3 L666.5,526.9 L668.0,537.6 L692.4,537.6 L698.5,551.3 L651.3,551.3Z"/>
<path fill="#e5e5e5" d="M652.8,488.8 L677.2,488.8 L677.2,507.1 L652.8,507.1Z M652.8,510.1 L662.0,510.1 L671.1,525.4 L662.0,525.4Z"/>
<path fill="#00bfff" d="M724.5,447.6 L797.6,447.6 L797.6,516.2 L753.4,519.3 L738.2,505.5 L730.5,490.3 L727.5,470.5Z"/>
<path fill="#0094f5" d="M727.5,449.1 L761.0,449.1 L768.7,470.5 L783.9,493.4 L768.7,504.0 L741.2,504.0 L732.1,485.7Z M736.6,537.6 L797.6,537.6 L797.6,551.3 L722.9,551.3Z M730.5,507.1 L753.4,519.3 L751.9,537.6 L736.6,537.6Z"/>
<path fill="#0032dc" d="M736.6,485.7 L753.4,482.7 L771.7,485.7 L780.9,493.4 L768.7,501.0 L753.4,504.0 L741.2,501.0Z M722.9,449.1 L736.6,449.1 L738.2,485.7 L730.5,490.3Z"/>
<path fill="#e5e5e5" d="M753.4,519.3 L765.6,513.2 L777.8,516.2 L790.0,513.2 L797.6,516.2 L797.6,537.6 L777.8,540.6 L759.5,539.1 L751.9,531.5Z"/>
<path fill="#b3b3b3" d="M668.0,449.1 L722.9,449.1 L727.5,470.5 L730.5,490.3 L738.2,505.5 L730.5,513.2 L715.3,507.1 L712.3,522.3 L722.9,537.6 L721.4,549.8 L698.5,549.8 L692.4,537.6 L668.0,537.6 L666.5,526.9 L680.2,522.3 L686.3,507.1 L692.4,491.8 L686.3,479.6 L674.1,475.1 L666.5,461.3Z M747.3,455.2 L753.4,455.2 L756.5,465.9 L750.4,465.9Z M761.0,469.0 L767.1,469.0 L767.1,475.1 L761.0,475.1Z"/>
<path fill="#4d4d4d" d="M712.3,458.3 L721.4,456.8 L721.4,464.4 L713.8,465.9Z M700.1,493.4 L706.2,493.4 L706.2,501.0 L700.1,501.0Z M672.6,494.9 L680.2,494.9 L680.2,499.5 L672.6,499.5Z"/>
<path fill="#0032dc" d="M707.7,507.1 L715.3,507.1 L735.1,531.5 L730.5,534.5 L722.9,525.4Z M674.1,459.8 L686.3,458.3 L692.4,470.5 L680.2,475.1Z"/>
<path fill="#0094f5" d="M704.6,525.4 L712.3,522.3 L716.8,531.5 L707.7,534.5Z"/>
<path fill="#00bfff" d="M799.1,475.1 L808.3,475.1 L809.8,513.2 L799.1,513.2Z"/>
<path fill="#00bfff" d="M652.9,543.8 L775.6,543.8 L775.6,578.7 L765.4,585.6 L750.0,590.7 L739.8,597.5 L739.8,621.3 L733.0,638.4 L731.3,655.4 L726.2,672.5 L715.9,665.6 L712.5,645.2 L714.2,635.0 L704.0,626.5 L698.9,602.6 L690.4,594.1 L690.4,611.1 L692.1,633.3 L687.0,645.2 L678.5,662.2 L666.5,662.2 L654.6,652.0 L652.9,628.2Z"/>
<path fill="#0064ea" d="M663.1,543.8 L775.6,543.8 L775.6,575.3 L765.4,580.4 L750.0,585.6 L736.4,592.4 L707.4,585.6 L690.4,589.0 L673.3,585.6 L663.1,577.0Z M707.4,585.6 L731.3,594.1 L736.4,619.6 L729.6,635.0 L724.5,641.8 L729.6,655.4 L724.5,669.0 L717.6,662.2 L715.9,645.2 L717.6,635.0 L707.4,624.7 L704.0,602.6Z"/>
<path fill="#0032dc" d="M652.9,585.6 L666.5,585.6 L680.2,592.4 L687.0,607.7 L683.6,628.2 L688.7,631.6 L683.6,641.8 L676.8,658.8 L668.2,660.5 L656.3,648.6 L652.9,628.2Z"/>
<path fill="#0000cd" d="M656.3,594.1 L673.3,594.1 L680.2,611.1 L673.3,631.6 L659.7,635.0 L654.6,614.5Z M673.3,553.2 L698.9,556.6 L707.4,577.0 L690.4,583.9 L676.8,577.0Z M724.5,560.0 L758.5,556.6 L767.1,570.2 L741.5,582.2 L727.9,580.4Z"/>
<path fill="#e5e5e5" d="M652.9,543.8 L664.8,543.8 L666.5,570.2 L656.3,582.2 L652.9,582.2Z M697.2,570.2 L707.4,570.2 L705.7,580.4 L697.2,580.4Z M717.6,573.6 L724.5,573.6 L724.5,585.6 L717.6,585.6Z"/>
<path fill="#ff4500" d="M746.6,665.6 L758.5,663.9 L765.4,675.9 L775.6,677.6 L775.6,684.4 L748.3,682.7Z M680.2,686.1 L690.4,675.9 L690.4,682.7 L683.6,687.8Z M704.0,686.1 L709.1,686.9 L726.2,708.2 L729.6,713.3 L722.8,713.3Z M733.0,686.1 L736.4,686.1 L743.2,706.5 L739.8,706.5Z"/>
<path fill="#00bfff" d="M554.1,594.1 L562.6,575.3 L579.6,571.9 L595.0,580.4 L603.5,595.8 L615.4,607.7 L630.8,616.2 L647.8,626.5 L651.2,645.2 L637.6,648.6 L627.3,638.4 L613.7,629.9 L596.7,621.3 L583.0,607.7 L571.1,606.0 L560.9,611.1Z M608.6,565.1 L629.0,560.0 L647.8,566.8 L651.2,595.8 L639.3,607.7 L627.3,592.4 L617.1,582.2Z M576.2,548.1 L589.9,548.1 L591.6,573.6 L579.6,571.9Z"/>
<path fill="#0032dc" d="M562.6,592.4 L567.7,580.4 L577.9,577.0 L591.6,583.9 L600.1,599.2 L612.0,611.1 L629.0,619.6 L646.1,629.9 L647.8,640.1 L639.3,641.8 L629.0,633.3 L615.4,624.7 L598.4,616.2 L584.7,602.6 L571.1,600.9Z M615.4,568.5 L629.0,565.1 L644.4,571.9 L647.8,594.1 L639.3,602.6 L629.0,589.0 L620.5,580.4Z M578.8,560.0 L588.2,560.0 L589.0,570.2 L581.3,569.4Z"/>
<path fill="#ff4500" d="M530.2,577.0 L545.6,602.6 L567.7,616.2 L588.2,628.2 L608.6,640.1 L625.6,652.0 L646.1,658.8 L646.1,672.5 L629.0,669.0 L615.4,696.3 L566.0,679.3 L566.0,669.0 L584.7,662.2 L571.1,641.8 L554.1,635.0 L540.4,623.0 L530.2,602.6Z"/>
<path fill="#b3b3b3" d="M520.0,617.9 L540.4,624.7 L554.1,636.7 L571.1,641.8 L591.6,645.2 L595.0,655.4 L588.2,669.0 L571.1,669.0 L564.3,677.6 L528.5,665.6Z"/>
<path fill="#c8321a" d="M593.3,655.4 L613.7,648.6 L629.0,662.2 L615.4,686.1 L595.0,682.7 L588.2,670.8Z M540.4,604.3 L564.3,617.9 L584.7,631.6 L576.2,635.0 L554.1,628.2 L542.2,616.2Z"/>
<path fill="#ff4500" d="M567.7,665.6 L588.2,669.0 L591.6,682.7 L576.2,682.7 L566.0,677.6Z"/>
<path fill="#4d4d4d" d="M577.9,641.8 L584.7,643.5 L583.9,657.1 L578.8,655.4Z M552.4,658.8 L560.9,658.8 L560.0,663.9 L553.2,664.8Z M537.9,633.3 L542.2,633.3 L542.2,640.1 L537.9,640.1Z"/>
<path fill="#0094f5" d="M559.1,574.3 L589.6,571.3 L604.9,583.5 L604.9,607.9 L582.0,614.0 L562.2,598.7Z"/>
<path fill="#c8321a" d="M531.7,583.5 L543.9,577.4 L550.0,589.6 L543.9,607.9 L556.1,623.1 L566.8,628.0 L543.9,628.0 L534.8,607.9Z"/>
<path fill="#ff4500" d="M550.0,577.4 L589.6,571.3 L591.2,574.3 L559.1,580.4 L551.5,583.5Z"/>
<path fill="#0094f5" d="M547.0,492.0 L620.0,492.0 L620.0,542.3 L589.6,546.9 L559.1,542.3 L547.0,522.5Z"/>
<path fill="#e5e5e5" d="M547.0,527.1 L568.3,534.7 L589.6,537.7 L601.8,548.4 L547.0,549.9Z M589.6,510.3 L603.4,507.2 L603.4,525.5 L592.7,528.6Z"/>
<path fill="#00bfff" d="M550.0,495.0 L577.4,492.0 L589.6,507.2 L580.5,527.1 L559.1,531.6 L550.0,516.4Z"/>
<path fill="#0064ea" d="M559.1,498.1 L571.3,496.6 L574.4,510.3 L563.7,513.3Z M589.6,495.0 L603.4,498.1 L598.8,510.3 L589.6,507.2Z"/>
<path fill="#e5e5e5" d="M547.0,492.0 L559.1,492.0 L557.6,510.3 L547.0,513.3Z"/>
<path fill="#4d4d4d" d="M624.6,377.3 L633.7,374.3 L639.8,386.5 L632.2,391.1 L626.1,386.5Z M629.1,394.1 L642.9,392.6 L649.0,401.7 L645.9,412.4 L633.7,413.9 L627.6,404.8Z M614.0,345.0 L624.0,345.0 L626.0,355.0 L616.0,359.0Z M618.0,369.0 L632.0,365.0 L640.0,377.0 L628.0,385.0 L619.0,383.0Z M685.5,356.0 L696.2,356.0 L694.7,362.1 L687.1,362.1Z"/>
<path fill="#0032dc" d="M677.9,394.1 L705.4,381.9 L726.7,383.4 L732.8,398.7 L746.5,401.7 L752.9,417.0 L752.9,444.4 L726.7,444.4 L717.6,432.2 L708.4,441.4 L684.0,438.3 L681.0,423.1 L677.9,409.4Z M620.0,432.2 L635.2,427.6 L650.5,423.1 L665.7,429.2 L677.9,441.4 L677.9,445.2 L620.0,445.2Z M714.5,357.5 L729.8,356.0 L726.7,368.2 L717.6,366.7Z M761.8,380.4 L769.4,369.7 L770.2,377.3 L764.8,385.0Z M763.3,400.2 L784.6,397.2 L778.5,404.8 L766.3,404.8Z M656.6,395.6 L665.7,394.1 L670.3,401.7 L659.6,403.3Z"/>
<path fill="#0000cd" d="M684.0,398.7 L705.4,386.5 L723.7,386.5 L726.7,401.7 L742.0,406.3 L751.1,420.0 L751.1,441.4 L732.8,441.4 L726.7,427.6 L723.7,404.8 L708.4,403.3 L702.3,417.0 L687.1,420.0Z"/>
<path fill="#00bfff" d="M705.4,401.7 L726.7,401.7 L729.8,429.2 L726.7,442.9 L717.6,432.2 L705.4,423.1Z M681.0,359.0 L688.6,356.0 L699.3,371.2 L691.6,386.5 L684.0,383.4 L690.1,371.2Z M656.6,377.3 L681.0,378.9 L684.0,383.4 L659.6,381.9Z"/>
<path fill="#b3b3b3" d="M708.4,404.8 L723.7,404.8 L723.7,421.5 L711.5,423.1Z M684.0,429.2 L705.4,427.6 L711.5,438.3 L687.1,441.4Z"/>
<path fill="#0064ea" d="M757.2,417.0 L772.4,407.8 L778.5,415.5 L790.7,423.1 L807.5,426.1 L816.6,433.7 L816.6,441.4 L822.7,444.4 L825.8,450.5 L798.4,445.9 L757.2,445.2Z"/>
<path fill="#0094f5" d="M787.7,424.6 L807.5,427.6 L816.6,435.3 L816.6,442.9 L799.9,445.2 L787.7,438.3Z"/>
<path fill="#4d4d4d" d="M620.0,447.5 L632.2,447.5 L632.2,455.1 L620.0,455.1Z"/>
<path fill="#ff4500" d="M748.0,667.0 L760.0,665.0 L770.0,675.0 L777.0,671.0 L786.0,669.0 L804.0,665.0 L810.0,649.0 L832.0,645.0 L840.0,633.0 L848.0,628.0 L860.0,623.4 L872.0,628.0 L880.0,627.0 L886.0,633.0 L896.0,636.0 L902.0,638.0 L908.0,631.0 L920.0,617.4 L928.0,616.0 L930.0,629.0 L940.0,631.0 L956.0,637.4 L968.0,637.0 L980.0,645.0 L984.0,639.0 L1000.0,639.0 L1008.0,633.0 L1008.0,623.0 L1016.0,611.0 L1018.0,593.0 L1024.0,591.0 L1028.0,605.0 L1038.0,611.0 L1048.0,601.0 L1056.0,601.0 L1048.0,617.0 L1052.0,629.0 L1060.0,637.0 L1074.0,631.0 L1078.0,625.0 L1086.0,627.0 L1092.0,641.0 L1100.0,647.0 L1118.0,645.0 L1128.0,655.0 L1140.0,657.0 L1148.0,663.0 L1156.0,664.0 L1166.0,663.0 L1176.0,653.0 L1192.0,649.0 L1202.0,645.0 L1208.0,639.0 L1220.0,635.0 L1228.0,631.0 L1228.0,621.0 L1238.0,621.0 L1246.0,621.0 L1252.0,629.0 L1260.0,621.0 L1272.0,615.0 L1276.0,603.0 L1288.0,597.0 L1298.0,607.0 L1306.0,615.0 L1310.0,619.0 L1314.0,605.0 L1324.0,599.0 L1342.0,601.0 L1360.0,601.0 L1360.0,811.0 L700.0,892.0 L720.0,699.0 L732.0,691.0 L750.0,693.0Z"/>
<path fill="#e5e5e5" d="M828.0,757.0 L844.0,761.0 L860.0,757.0 L868.0,766.0 L880.0,765.0 L886.0,776.0 L892.0,784.0 L896.0,790.0 L901.0,794.0 L906.0,854.0 L820.0,854.0Z M732.0,710.0 L760.0,710.0 L766.0,720.0 L780.0,724.0 L778.0,732.0 L768.0,734.0 L766.0,740.0 L750.0,738.0 L744.0,746.0 L732.0,726.0Z M1206.0,788.0 L1212.0,782.0 L1220.0,780.0 L1228.0,772.0 L1238.0,768.0 L1244.0,778.0 L1252.0,794.0 L1264.0,810.0 L1280.0,874.0 L1200.0,874.0 L1208.0,802.0Z"/>
<path fill="#ff4500" d="M1228.0,786.0 L1235.0,780.0 L1240.0,772.0 L1245.6,781.0 L1248.0,794.0 L1252.0,802.0 L1252.4,809.0 L1243.0,809.6 L1239.0,801.0 L1230.4,793.0Z"/>
<path fill="#c8321a" d="M748.6,691.4 L760.0,677.1 L785.7,672.9 L805.7,668.6 L820.0,661.4 L842.9,658.6 L862.9,652.9 L891.4,651.4 L914.3,654.9 L931.4,665.7 L954.3,668.6 L965.7,660.0 L1022.9,658.6 L1028.6,642.9 L1037.1,631.4 L1048.6,637.1 L1057.1,654.3 L1071.4,662.9 L1085.7,654.3 L1100.0,662.9 L1120.0,668.6 L1131.4,662.9 L1148.6,672.0 L1160.0,669.1 L1177.1,667.1 L1194.3,663.4 L1211.4,657.1 L1222.9,654.9 L1234.3,648.6 L1242.9,641.4 L1254.3,644.3 L1262.9,654.3 L1262.9,674.3 L1248.6,708.6 L1231.4,717.1 L1234.3,740.0 L1228.6,757.1 L1217.1,751.4 L1205.7,740.0 L1194.3,751.4 L1148.6,762.9 L1091.4,740.0 L1074.3,762.9 L1034.3,762.9 L977.1,748.6 L945.7,748.6 L931.4,740.0 L920.0,751.4 L902.9,757.1 L880.0,754.3 L862.9,751.4 L845.7,748.6 L828.6,748.6 L817.1,742.9 L797.1,740.0 L777.1,734.3 L762.9,717.1 L751.4,705.7Z"/>
<path fill="#8b1a1a" d="M968.6,660.0 L1022.9,660.0 L1031.4,674.3 L1042.9,682.9 L1062.9,688.6 L1085.7,682.9 L1100.0,691.4 L1120.0,694.3 L1140.0,688.6 L1157.1,692.0 L1171.4,687.4 L1188.6,683.4 L1211.4,678.3 L1230.0,674.9 L1238.6,680.6 L1234.3,694.3 L1231.4,717.1 L1217.1,722.9 L1194.3,717.1 L1165.7,722.9 L1154.3,745.7 L1142.9,734.3 L1120.0,728.6 L1100.0,731.4 L1082.9,725.7 L1062.9,728.6 L1048.6,722.9 L1034.3,714.3 L1017.1,708.6 L1002.9,700.0 L991.4,708.6 L977.1,714.3 L971.4,694.3 L968.6,677.1Z M902.9,741.4 L920.0,730.0 L942.9,734.3 L962.9,725.7 L971.4,705.7 L965.7,688.6 L957.1,675.7 L937.1,671.4 L920.0,665.7 L905.7,651.4 L891.4,660.0 L902.9,674.3 L920.0,688.6 L937.1,700.0 L948.6,714.3 L931.4,722.9 L914.3,720.0 L897.1,728.6Z"/>
<path fill="#a82618" d="M762.9,694.3 L791.4,678.6 L814.3,674.3 L834.3,682.9 L822.9,697.1 L805.7,702.9 L814.3,717.1 L834.3,728.6 L854.3,740.0 L880.0,748.6 L902.9,741.4 L897.1,728.6 L880.0,735.7 L862.9,728.6 L845.7,714.3 L834.3,705.7 L817.1,714.3 L797.1,717.1 L777.1,714.3 L762.9,705.7Z"/>
<path fill="#8b1a1a" d="M771.4,697.1 L791.4,685.7 L811.4,680.0 L822.9,688.6 L805.7,697.1 L794.3,705.7 L777.1,705.7Z M828.6,722.9 L845.7,722.9 L862.9,734.3 L880.0,741.4 L868.6,745.7 L848.6,740.0 L834.3,731.4Z"/>
<path fill="#a82618" d="M834.3,682.9 L848.6,700.0 L868.6,705.7 L891.4,700.0 L914.3,688.6 L902.9,674.3 L920.0,688.6 L937.1,700.0 L920.0,705.7 L897.1,708.6 L880.0,714.3 L862.9,711.4 L845.7,705.7 L834.3,705.7 L822.9,697.1Z"/>
<path fill="#c8321a" d="M1005.7,702.9 L1022.9,714.3 L1034.3,722.9 L1034.3,740.0 L977.1,740.0 L977.1,717.1 L991.4,711.4Z"/>
<path fill="#ff4500" d="M817.1,685.7 L840.0,680.0 L862.9,688.6 L880.0,677.1 L891.4,682.9 L880.0,697.1 L857.1,702.9 L834.3,700.0 L817.1,694.3Z M851.4,717.1 L874.3,714.3 L891.4,722.9 L880.0,734.3 L857.1,731.4Z M920.0,705.7 L942.9,702.9 L948.6,714.3 L931.4,722.9 L917.1,717.1Z M985.7,717.1 L998.6,715.7 L1001.4,725.7 L988.6,728.6Z"/>
<path fill="#0000cd" d="M1126.1,339.2 L1140.4,333.8 L1154.8,315.9 L1165.5,315.9 L1201.4,324.8 L1215.8,366.1 L1212.2,424.5 L1111.7,424.5 L1122.5,369.7Z"/>
<path fill="#0032dc" d="M1124.3,364.3 L1140.4,369.7 L1154.8,373.3 L1165.5,371.5 L1179.9,376.8 L1194.2,366.1 L1212.2,366.1 L1212.2,425.6 L1162.0,424.5 L1111.7,424.5Z"/>
<path fill="#0064ea" d="M1126.1,385.8 L1136.8,384.0 L1147.6,387.6 L1158.4,380.4 L1172.7,385.8 L1187.1,387.6 L1197.8,382.2 L1212.2,387.6 L1212.2,425.6 L1162.0,424.5 L1111.7,424.5Z"/>
<path fill="#0094f5" d="M1127.9,403.7 L1140.4,396.6 L1154.8,402.0 L1165.5,394.8 L1179.9,398.4 L1188.9,405.5 L1196.0,409.1 L1192.4,423.5 L1189.7,426.2 L1162.0,425.3 L1126.1,424.4Z"/>
<path fill="#00bfff" d="M1140.4,409.1 L1147.6,405.5 L1154.8,410.9 L1151.2,418.1 L1142.2,416.3Z M1165.5,403.7 L1176.3,402.0 L1181.7,409.1 L1172.7,414.5Z"/>
<path fill="#0064ea" d="M1056.1,387.6 L1063.3,385.8 L1072.3,383.1 L1077.7,387.6 L1088.4,385.8 L1088.4,373.3 L1092.0,366.1 L1093.8,358.9 L1101.0,348.1 L1106.4,351.7 L1101.0,373.3 L1099.2,405.5 L1056.1,405.5Z"/>
<path fill="#0032dc" d="M1090.2,373.3 L1093.8,360.7 L1101.0,349.9 L1105.5,351.7 L1101.0,373.3 L1099.2,394.8 L1092.0,394.8Z"/>
<path fill="#0064ea" d="M1252.0,420.0 L1268.0,416.0 L1282.0,386.0 L1340.0,376.0 L1348.0,382.0 L1360.0,390.0 L1386.0,388.0 L1398.0,396.0 L1400.0,410.0 L1392.0,436.0 L1380.0,446.0 L1368.0,442.0 L1356.0,448.0 L1340.0,442.0 L1324.0,450.0 L1310.0,456.0 L1296.0,466.0 L1284.0,474.0 L1272.0,479.0 L1266.0,474.0 L1276.0,464.0 L1288.0,450.0 L1280.0,446.0 L1268.0,442.0 L1256.0,436.0Z"/>
<path fill="#0032dc" d="M1266.0,418.0 L1282.0,390.0 L1340.0,380.0 L1346.0,384.0 L1360.0,392.0 L1380.0,392.0 L1390.0,400.0 L1388.0,422.0 L1380.0,436.0 L1368.0,438.0 L1360.0,430.0 L1346.0,436.0 L1330.0,440.0 L1310.0,438.0 L1290.0,436.0 L1272.0,430.0Z"/>
<path fill="#0000cd" d="M1272.0,417.0 L1280.0,408.0 L1296.0,406.0 L1306.0,413.0 L1320.0,410.0 L1332.0,418.0 L1340.0,428.0 L1334.0,435.0 L1320.0,430.0 L1300.0,428.0 L1284.0,426.0 L1272.0,422.4Z M1338.0,398.0 L1360.0,395.0 L1380.0,402.0 L1387.0,410.0 L1384.0,423.0 L1375.0,427.0 L1368.0,420.0 L1358.0,413.0 L1344.0,408.0Z"/>
<path fill="#0064ea" d="M1306.0,396.0 L1320.0,392.0 L1336.0,394.0 L1338.0,404.0 L1324.0,408.0 L1310.0,406.0Z"/>
<path fill="#0094f5" d="M1306.0,394.0 L1316.0,388.0 L1332.0,390.0 L1326.0,400.0 L1314.0,404.0Z"/>
<path fill="#00bfff" d="M1388.0,394.0 L1398.0,390.0 L1400.0,420.0 L1394.0,438.0 L1388.0,450.0 L1382.0,446.0 L1388.0,430.0 L1390.0,410.0Z"/>
<path fill="#e5e5e5" d="M1254.0,454.0 L1268.0,456.0 L1270.0,466.0 L1264.0,476.0 L1254.0,476.0Z"/>
<path fill="#0064ea" d="M1401.9,379.2 L1407.3,379.2 L1407.3,397.1 L1411.7,391.7 L1415.3,381.0 L1422.5,379.2 L1427.9,379.2 L1433.3,373.8 L1436.8,366.6 L1442.2,370.2 L1447.6,364.8 L1454.8,363.0 L1458.4,388.1 L1456.6,420.4 L1447.6,434.8 L1401.0,445.5 L1397.4,443.7 L1402.8,400.7Z"/>
<path fill="#0000cd" d="M1424.3,379.2 L1433.3,373.8 L1440.4,372.0 L1447.6,366.6 L1453.9,366.6 L1456.6,391.7 L1447.6,398.9 L1426.1,398.9 L1418.9,395.3Z M1403.7,400.7 L1415.3,400.7 L1417.1,416.8 L1402.8,418.6Z M1454.8,380.1 L1456.6,363.0 L1465.5,355.9 L1478.1,350.5 L1488.9,354.1 L1501.4,348.7 L1519.3,343.3 L1536.4,339.7 L1539.1,348.7 L1519.3,353.2 L1501.4,354.1 L1488.9,364.8 L1472.7,374.7 L1462.0,387.3 L1455.7,396.2Z"/>
<path fill="#00bfff" d="M1415.3,404.3 L1433.3,402.5 L1440.4,409.7 L1433.3,417.7 L1418.9,418.3Z M1406.4,423.1 L1424.3,422.2 L1426.1,434.8 L1409.9,437.5 L1404.6,431.2Z M1440.4,404.3 L1447.6,403.4 L1449.4,409.7 L1445.8,415.1 L1440.4,415.1Z"/>
<path fill="#0094f5" d="M1492.4,360.4 L1501.4,355.9 L1519.3,353.2 L1521.1,358.6 L1501.4,364.8Z"/>
<path fill="#b3b3b3" d="M1407.3,382.8 L1411.7,382.8 L1411.7,397.1 L1407.3,397.1Z"/>
<path fill="#0032dc" d="M1401.9,339.7 L1408.1,339.7 L1407.8,364.8 L1406.7,379.2 L1401.9,379.2 L1399.5,364.8Z"/>
<path fill="#4d4d4d" d="M1478.0,291.0 L1484.0,287.0 L1486.0,293.0 L1480.0,297.0Z M1488.0,281.0 L1492.0,280.0 L1493.0,285.0 L1489.0,286.0Z M1491.0,312.0 L1496.0,312.0 L1494.0,315.0Z M1494.0,294.0 L1498.0,294.0 L1497.0,301.0 L1494.4,300.0Z M1442.4,343.0 L1447.0,342.2 L1447.0,347.0 L1442.4,347.4Z"/>
<path fill="#0064ea" d="M1337.0,364.0 L1348.0,355.0 L1355.0,353.0 L1353.0,367.0 L1349.0,385.0 L1340.0,382.0Z"/>
<path fill="#0032dc" d="M1256.1,505.7 L1268.1,495.4 L1280.1,483.4 L1283.6,490.3 L1271.6,504.0 L1261.3,517.7 L1251.0,524.6 L1249.3,517.7Z"/>
<path fill="#00bfff" d="M1220.1,548.6 L1237.3,545.2 L1259.6,548.6 L1256.1,557.2 L1237.3,560.6 L1221.8,558.9Z M1230.4,529.7 L1244.1,528.0 L1245.8,536.6 L1233.8,538.3Z"/>
<path fill="#0064ea" d="M1227.0,550.3 L1240.7,548.6 L1242.4,557.2 L1228.7,559.8Z M1190.9,589.8 L1203.0,582.9 L1211.5,576.1 L1225.2,565.8 L1228.7,569.2 L1216.7,581.2 L1204.7,593.2 L1194.4,601.8 L1185.8,600.1Z"/>
<path fill="#0000cd" d="M1194.4,589.8 L1201.2,587.2 L1203.0,598.4 L1196.9,600.1Z M1215.0,572.6 L1223.5,567.5 L1225.2,572.6 L1218.4,579.5Z"/>
<path fill="#0064ea" d="M1272.0,481.0 L1282.0,484.0 L1276.0,494.0 L1268.0,506.0 L1260.0,514.0 L1252.0,524.0 L1244.0,528.0 L1250.0,516.0 L1260.0,502.0 L1268.0,490.0Z"/>
</g>
<filter id="veinD" x="280" y="200" width="560" height="520" filterUnits="userSpaceOnUse" color-interpolation-filters="sRGB"><feTurbulence type="turbulence" baseFrequency="0.055" numOctaves="3" seed="11"/><feColorMatrix type="matrix" values="0 0 0 0 0  0 0 0 0 0  0 0 0 0 0  -9 0 0 0 1.55"/><feComposite in="SourceGraphic" operator="in"/></filter>
<filter id="veinL" x="280" y="200" width="560" height="520" filterUnits="userSpaceOnUse" color-interpolation-filters="sRGB"><feTurbulence type="turbulence" baseFrequency="0.07" numOctaves="3" seed="23"/><feColorMatrix type="matrix" values="0 0 0 0 0  0 0 0 0 0  0 0 0 0 0  0 -9 0 0 1.35"/><feComposite in="SourceGraphic" operator="in"/></filter>
<filter id="veinC" x="280" y="200" width="560" height="520" filterUnits="userSpaceOnUse" color-interpolation-filters="sRGB"><feTurbulence type="turbulence" baseFrequency="0.06" numOctaves="3" seed="5"/><feColorMatrix type="matrix" values="0 0 0 0 0  0 0 0 0 0  0 0 0 0 0  0 0 -9 0 1.45"/><feComposite in="SourceGraphic" operator="in"/></filter>
<g shape-rendering="crispEdges">
<g filter="url(#veinC)"><path fill="#00bfff" d="M336.6,305.4 L365.5,237.5 L534.8,237.5 L550.0,245.9 L559.1,262.7 L568.3,285.5 L571.3,299.3 L559.1,314.5 L537.8,326.7 L498.2,325.2 L481.4,313.0 L437.2,311.5 L406.7,317.6 L379.3,320.6 L345.7,320.6Z M330.0,330.0 L608.0,330.0 L608.0,419.0 L545.0,419.0 L545.0,551.0 L470.0,548.0 L419.0,500.0 L419.0,470.0 L380.0,470.0 L345.0,440.0 L335.0,400.0Z M578.1,447.6 L649.8,447.6 L649.8,551.3 L546.1,551.3 L546.1,504.0 L570.5,497.9Z M651.3,447.6 L668.0,447.6 L692.4,491.8 L686.3,525.4 L698.5,551.3 L651.3,551.3Z M722.9,449.1 L797.6,449.1 L797.6,516.2 L738.2,507.1Z M652.9,551.0 L775.6,551.0 L775.6,580.4 L739.8,597.5 L733.0,669.0 L714.2,669.0 L704.0,611.1 L690.4,594.1 L688.7,655.4 L656.3,655.4Z M550.7,570.2 L601.8,570.2 L652.9,624.7 L652.9,648.6 L629.0,648.6 L571.1,611.1 L550.7,611.1Z M329.0,420.0 L417.4,420.0 L417.4,492.0 L394.5,492.0 L385.4,450.5 L371.6,441.4 L361.0,453.6 L361.0,492.0 L339.6,492.0 L325.9,462.7Z M338.1,492.0 L368.6,492.0 L422.0,607.9 L452.4,628.0 L409.8,628.0 L376.2,553.0Z"/></g>
<g filter="url(#veinL)"><path fill="#e5e5e5" d="M336.6,305.4 L365.5,237.5 L534.8,237.5 L550.0,245.9 L559.1,262.7 L568.3,285.5 L571.3,299.3 L559.1,314.5 L537.8,326.7 L498.2,325.2 L481.4,313.0 L437.2,311.5 L406.7,317.6 L379.3,320.6 L345.7,320.6Z M330.0,330.0 L608.0,330.0 L608.0,419.0 L545.0,419.0 L545.0,551.0 L470.0,548.0 L419.0,500.0 L419.0,470.0 L380.0,470.0 L345.0,440.0 L335.0,400.0Z M578.1,447.6 L649.8,447.6 L649.8,551.3 L546.1,551.3 L546.1,504.0 L570.5,497.9Z M651.3,447.6 L668.0,447.6 L692.4,491.8 L686.3,525.4 L698.5,551.3 L651.3,551.3Z M722.9,449.1 L797.6,449.1 L797.6,516.2 L738.2,507.1Z M652.9,551.0 L775.6,551.0 L775.6,580.4 L739.8,597.5 L733.0,669.0 L714.2,669.0 L704.0,611.1 L690.4,594.1 L688.7,655.4 L656.3,655.4Z M550.7,570.2 L601.8,570.2 L652.9,624.7 L652.9,648.6 L629.0,648.6 L571.1,611.1 L550.7,611.1Z M329.0,420.0 L417.4,420.0 L417.4,492.0 L394.5,492.0 L385.4,450.5 L371.6,441.4 L361.0,453.6 L361.0,492.0 L339.6,492.0 L325.9,462.7Z M338.1,492.0 L368.6,492.0 L422.0,607.9 L452.4,628.0 L409.8,628.0 L376.2,553.0Z"/></g>
<g filter="url(#veinD)"><path fill="#0020d8" d="M365.5,237.5 L534.8,237.5 L550.0,245.9 L559.1,262.7 L568.3,285.5 L571.3,299.3 L559.1,314.5 L537.8,326.7 L498.2,325.2 L481.4,313.0 L437.2,311.5 L406.7,317.6 L379.3,317.6 L368.6,299.3 L365.5,265.7Z M330.0,330.0 L600.0,330.0 L600.0,419.0 L545.0,419.0 L545.0,545.0 L470.0,545.0 L419.0,500.0 L419.0,470.0 L380.0,470.0 L345.0,440.0 L335.0,400.0Z M488.0,315.0 L568.0,327.0 L580.0,355.0 L566.0,391.0 L488.0,391.0Z M578.1,447.6 L649.8,447.6 L649.8,501.0 L625.4,504.0 L604.0,551.3 L546.1,551.3 L546.1,504.0 L570.5,497.9Z M651.3,447.6 L668.0,447.6 L692.4,491.8 L686.3,525.4 L698.5,551.3 L651.3,551.3Z M707.7,504.0 L738.2,504.0 L738.2,551.3 L721.4,551.3Z M652.9,551.0 L775.6,551.0 L775.6,580.4 L739.8,597.5 L733.0,669.0 L714.2,669.0 L704.0,611.1 L690.4,594.1 L688.7,655.4 L656.3,655.4Z M550.7,570.2 L601.8,570.2 L652.9,624.7 L652.9,648.6 L629.0,648.6 L571.1,611.1 L550.7,611.1Z M329.0,420.0 L417.4,420.0 L417.4,492.0 L394.5,492.0 L385.4,450.5 L371.6,441.4 L361.0,453.6 L361.0,492.0 L339.6,492.0 L325.9,462.7Z M394.5,492.0 L422.0,492.0 L461.6,577.4 L458.5,601.8 L443.3,601.8 L437.2,557.5 L406.7,516.4Z"/></g>
<g filter="url(#rough)">
<path fill="#0000cd" d="M435.7,267.3 L446.3,264.2 L467.7,266.5 L479.9,271.1 L479.9,290.9 L467.7,292.4 L452.4,290.9 L438.0,284.8 L432.6,275.6Z"/>
<path fill="#0032dc" d="M437.2,256.6 L452.4,254.3 L467.7,255.8 L467.7,265.7 L446.3,263.4 L435.7,266.5Z"/>
<path fill="#00bfff" d="M487.5,368.2 L496.6,375.8 L503.5,391.8 L525.6,399.9 L543.9,397.5 L546.2,401.7 L528.7,406.3 L502.0,401.0 L489.8,383.4Z"/>
<path fill="#0094f5" d="M499.7,388.0 L525.6,395.3 L541.6,394.4 L542.1,399.0 L525.6,401.7 L502.0,396.9Z"/>
<path fill="#b3b3b3" d="M523.7,351.2 L541.2,346.8 L558.7,354.1 L570.3,359.9 L582.0,358.5 L605.3,354.1 L605.3,373.0 L584.9,376.0 L573.2,383.2 L558.7,386.2 L523.7,386.9 L520.8,383.2 L528.1,377.4 L523.7,365.8Z"/>
</g>
<filter id="veinS" x="380" y="540" width="300" height="180" filterUnits="userSpaceOnUse" color-interpolation-filters="sRGB"><feTurbulence type="turbulence" baseFrequency="0.09" numOctaves="3" seed="41"/><feColorMatrix type="matrix" values="0 0 0 0 0  0 0 0 0 0  0 0 0 0 0  0 -9 0 0 1.9"/><feComposite in="SourceGraphic" operator="in"/></filter>
<g filter="url(#veinS)"><path fill="#e5e5e5" d="M460.0,559.0 L545.0,559.0 L545.0,571.0 L652.0,591.0 L652.0,703.0 L600.0,703.0 L528.0,671.0 L480.0,671.0 L464.0,631.0Z M458.5,549.9 L550.0,543.8 L553.0,583.5 L528.7,628.0 L467.7,628.0 L458.5,589.6Z"/></g>
<filter id="veinR" x="700" y="600" width="720" height="220" filterUnits="userSpaceOnUse" color-interpolation-filters="sRGB"><feTurbulence type="turbulence" baseFrequency="0.05" numOctaves="3" seed="17"/><feColorMatrix type="matrix" values="0 0 0 0 0  0 0 0 0 0  0 0 0 0 0  -9 0 0 0 1.5"/><feComposite in="SourceGraphic" operator="in"/></filter>
<filter id="blotR" x="700" y="600" width="720" height="220" filterUnits="userSpaceOnUse" color-interpolation-filters="sRGB"><feTurbulence type="fractalNoise" baseFrequency="0.06" numOctaves="3" seed="29"/><feColorMatrix type="matrix" values="0 0 0 0 0  0 0 0 0 0  0 0 0 0 0  0 14 0 0 -8.2"/><feComposite in="SourceGraphic" operator="in"/></filter>
<g filter="url(#blotR)"><path fill="#a82618" d="M762.9,694.3 L791.4,674.3 L820.0,657.1 L862.9,651.4 L905.7,650.0 L937.1,668.6 L965.7,662.9 L1022.9,661.4 L1025.7,677.1 L1017.1,708.6 L1034.3,722.9 L1034.3,751.4 L977.1,745.7 L920.0,748.6 L880.0,751.4 L834.3,745.7 L791.4,728.6 L762.9,711.4Z"/></g>
<g filter="url(#veinR)"><path fill="#e23c0c" d="M762.9,694.3 L791.4,674.3 L820.0,657.1 L862.9,651.4 L905.7,650.0 L937.1,668.6 L965.7,662.9 L1022.9,661.4 L1025.7,677.1 L1017.1,708.6 L1034.3,722.9 L1034.3,751.4 L977.1,745.7 L920.0,748.6 L880.0,751.4 L834.3,745.7 L791.4,728.6 L762.9,711.4Z"/></g>
</g>
</g>
<g fill="none" stroke="#000" stroke-width="3.8" stroke-linejoin="round" stroke-linecap="round">
<path d="M320.0,251.6 L340.0,256.0 L354.0,257.4 L360.0,255.0 L364.0,249.0 L362.0,240.6 L361.0,235.0 L942.0,235.0 L942.0,226.0 L951.0,226.0 L953.0,241.0 L972.0,247.0 L980.0,245.0 L990.0,245.0 L1000.0,252.0 L1012.0,254.0 L1020.0,259.0 L1032.0,256.0 L1040.0,258.0 L1063.0,262.0 L1048.0,266.6 L1032.0,274.4 L1018.0,285.0 L1004.0,294.6 L1014.0,294.2 L1028.0,290.0 L1033.0,289.4 L1035.6,293.4 L1032.4,296.6 L1040.0,297.0 L1060.0,292.0 L1066.7,289.7 L1073.5,285.8 L1079.1,282.4 L1083.6,278.5 L1089.2,275.7 L1095.9,275.1 L1099.8,276.8 L1098.7,278.5 L1093.6,280.2 L1089.7,283.6 L1086.9,287.5 L1084.1,290.8 L1084.1,293.6 L1088.0,290.3 L1093.6,289.4 L1099.3,291.4 L1103.7,295.9 L1107.1,299.8 L1112.7,300.4 L1117.2,302.1 L1121.7,303.2 L1125.0,300.4 L1131.8,297.6 L1140.7,295.9 L1149.7,294.8 L1157.6,294.2 L1157.0,301.5 L1163.2,303.2 L1172.1,302.6 L1173.3,309.3 L1180.0,313.3 L1180.0,315.0 L1172.1,313.8 L1163.2,315.0 L1158.7,313.3 L1149.7,312.1 L1143.0,313.3 L1136.3,313.8 L1129.5,316.1 L1126.2,320.6 L1122.8,323.9 L1118.3,322.8 L1116.1,317.2 L1113.3,317.8 L1110.5,323.9 L1107.1,331.8 L1103.7,337.4 L1100.4,340.7 L1097.0,345.2 L1093.6,349.7 L1092.5,352.5 L1095.9,346.9 L1100.4,343.2 L1107.1,337.6 L1112.7,333.1 L1116.1,333.1 L1115.0,337.4 L1110.5,343.0 L1106.0,348.6 L1102.6,353.1 L1102.8,358.9 L1100.1,373.3 L1097.4,387.6 L1097.4,403.7 L1100.1,416.3 L1102.8,425.3 L1108.1,428.0 L1115.3,426.2 L1122.5,421.7 L1126.1,412.7 L1129.7,403.7 L1129.7,394.8 L1126.1,385.8 L1124.3,376.8 L1126.1,364.3 L1129.7,351.7 L1135.1,342.8 L1142.2,337.4 L1145.8,346.4 L1149.4,339.2 L1151.2,332.0 L1156.6,324.8 L1160.2,318.6 L1165.5,320.4 L1176.3,324.8 L1187.1,330.2 L1192.4,337.4 L1193.3,348.1 L1191.5,357.1 L1187.1,362.5 L1181.7,367.9 L1179.9,373.3 L1183.5,377.7 L1188.9,375.1 L1194.2,367.9 L1201.4,365.2 L1206.8,369.7 L1208.6,380.4 L1210.4,393.0 L1208.6,400.2 L1203.2,403.7 L1199.6,409.1 L1196.0,416.3 L1192.4,421.7 L1189.7,425.3 L1196.0,430.6 L1201.4,433.3 L1210.4,432.4 L1219.3,430.6 L1230.1,426.2 L1239.1,422.6 L1250.0,419.9 L1260.0,414.0 L1270.0,410.0 L1280.0,404.0 L1284.0,399.0 L1283.0,393.0 L1281.0,393.0 L1283.0,385.0 L1296.0,384.0 L1306.0,385.4 L1314.0,387.4 L1324.0,386.0 L1332.0,381.0 L1340.0,380.0 L1342.0,373.0 L1338.0,365.0 L1348.0,355.0 L1352.0,351.0 L1360.0,344.0 L1370.0,340.6 L1440.0,340.6 L1442.0,334.0 L1446.0,332.0 L1449.0,333.0 L1456.0,330.0 L1460.0,323.0 L1465.0,317.0 L1468.0,307.0 L1472.0,295.0 L1480.0,284.0 L1489.0,275.0 L1493.0,280.0 L1509.0,278.0 L1519.0,284.0 L1521.0,299.0 L1520.0,323.0 L1528.0,326.0 L1529.0,335.0 L1535.0,337.0 L1536.0,347.0 L1528.0,353.0 L1516.0,356.0 L1506.0,363.0 L1500.0,360.0 L1492.0,367.0 L1480.0,375.0 L1468.0,381.0 L1460.0,389.0 L1456.0,393.0 L1455.7,395.3 L1458.4,401.6 L1452.1,407.9 L1451.2,413.3 L1456.6,416.8 L1462.0,423.1 L1463.7,427.6 L1469.1,426.7 L1474.5,425.8 L1475.4,420.4 L1472.7,417.7 L1468.2,418.3 L1471.8,422.2 L1470.9,424.0 L1465.5,429.8 L1456.6,433.0 L1454.8,437.5 L1449.4,434.8 L1447.6,430.3 L1442.2,433.3 L1434.5,436.6 L1424.3,436.9 L1411.7,438.7 L1397.4,443.7 L1392.0,447.7 L1384.8,458.1 L1389.3,463.5 L1392.9,446.1 L1383.6,456.9 L1388.2,458.4 L1389.0,466.1 L1386.7,476.9 L1380.6,486.1 L1372.9,496.8 L1371.4,499.1 L1368.3,496.1 L1360.6,492.2 L1357.5,486.1 L1356.0,479.9 L1357.5,484.5 L1357.5,490.7 L1360.6,498.4 L1363.7,504.5 L1364.4,512.2 L1364.4,515.3 L1362.1,527.6 L1354.5,538.3 L1348.3,547.5 L1347.5,549.1 L1346.8,544.5 L1349.8,532.2 L1352.9,523.7 L1348.3,519.9 L1345.2,512.2 L1342.2,504.5 L1343.7,495.3 L1348.3,486.1 L1354.5,479.6 L1342.2,484.5 L1333.7,492.2 L1336.0,501.4 L1334.5,512.2 L1339.1,519.9 L1340.6,526.0 L1336.0,519.9 L1328.3,515.3 L1320.7,516.8 L1326.8,524.5 L1340.6,532.2 L1329.9,538.3 L1342.2,544.5 L1325.3,546.0 L1336.0,553.7 L1345.2,553.7 L1346.8,553.7 L1351.4,562.9 L1354.5,577.0 L1348.0,571.0 L1356.0,581.0 L1358.0,591.0 L1357.0,599.0 L1342.0,609.0 L1340.0,607.0 L1328.0,613.0 L1316.0,619.0 L1308.0,625.0 L1304.0,633.0 L1292.0,634.0 L1284.0,641.0 L1278.0,649.0 L1278.0,655.0 L1268.0,661.0 L1260.0,667.0 L1252.0,673.0 L1244.0,679.0 L1240.0,687.0 L1234.0,699.0 L1231.0,709.0 L1232.0,721.0 L1235.0,735.0 L1238.0,749.0 L1235.0,734.0 L1240.0,752.0 L1246.0,768.0 L1252.0,784.0 L1258.0,800.0 L1262.0,818.0 L1262.0,832.0 L1260.0,848.0 L1256.0,858.0 L1252.0,863.0 L1240.0,865.0 L1237.0,860.0 L1234.0,850.0 L1228.0,844.0 L1224.0,836.0 L1222.0,826.0 L1217.0,818.0 L1212.0,814.0 L1208.0,804.0 L1206.0,798.0 L1202.0,792.0 L1204.0,780.0 L1206.0,770.0 L1204.0,762.0 L1198.0,756.0 L1190.0,748.0 L1184.0,740.0 L1176.0,734.0 L1170.0,734.0 L1170.0,739.0 L1160.0,742.0 L1148.0,745.0 L1146.0,736.0 L1140.0,730.0 L1128.0,723.0 L1112.0,726.0 L1104.0,725.0 L1096.0,729.0 L1095.0,729.0 L1092.0,719.0 L1089.0,729.0 L1086.0,729.0 L1076.0,727.0 L1064.0,733.0 L1068.0,734.0 L1064.0,738.0 L1060.0,744.0 L1068.0,752.0 L1072.0,758.0 L1064.0,762.0 L1060.0,752.0 L1052.0,754.0 L1044.0,758.0 L1034.0,760.0 L1024.0,752.0 L1016.0,744.0 L1008.0,742.0 L1000.0,747.0 L988.0,742.0 L978.0,741.0 L970.0,742.0 L960.0,746.0 L950.0,750.0 L952.0,740.0 L948.0,744.0 L946.0,754.0 L940.0,762.0 L928.0,768.0 L916.0,772.0 L908.0,772.0 L910.0,778.0 L900.0,784.0 L898.0,788.0 L892.0,792.0 L895.0,794.0 L896.0,800.0 L890.0,802.0 L888.0,806.0 L893.0,808.0 L894.0,818.0 L898.0,832.0 L901.0,842.0 L896.0,844.0 L890.0,842.0 L882.0,840.0 L872.0,836.0 L860.0,831.0 L858.0,826.0 L853.0,814.0 L851.0,804.0 L846.0,798.0 L838.0,784.0 L830.0,772.0 L824.0,760.0 L816.0,750.0 L808.0,743.0 L792.0,741.0 L783.0,746.0 L778.0,758.0 L772.0,763.0 L760.0,757.0 L748.0,748.0 L741.0,736.0 L736.0,722.0 L726.0,714.0 L720.0,707.0 L712.0,699.0 L702.0,688.0 L668.0,690.0 L668.0,701.0 L650.0,701.0 L606.0,701.0 L529.0,670.0 L532.0,664.0 L480.0,669.0 L478.0,661.0 L474.0,653.0 L464.0,641.0 L454.0,637.0 L452.0,631.0 L440.0,629.0 L430.0,620.0 L412.0,619.0 L406.0,613.0 L406.0,601.0 L400.0,591.0 L388.0,579.0 L380.0,571.0 L380.0,571.0 L381.0,563.0 L378.0,553.0 L370.0,545.0 L378.0,539.0 L372.0,529.0 L366.0,519.0 L356.0,521.0 L350.0,509.0 L342.0,497.0 L338.0,481.0 L332.0,469.0 L327.0,459.0 L330.0,445.0 L333.0,433.0 L330.0,419.0 L326.0,405.0 L324.0,393.0 L326.0,393.0 L330.0,375.0 L333.0,355.0 L335.6,335.0 L336.0,319.0 L335.0,309.0 L337.4,303.0 L334.4,295.0 L339.0,289.4 L333.0,290.0 L330.0,281.0 L326.0,266.6 L320.0,259.0Z"/>
<path stroke-width="3" d="M1392.0,449.5 L1402.8,445.9 L1422.5,443.0 L1434.2,441.6 L1433.3,444.1 L1418.9,451.3 L1406.4,456.3 L1384.8,458.5 L1387.0,453.6Z"/>
<path d="M335.0,308.0 L348.0,307.4 L358.0,311.0 L360.0,321.0 L370.0,325.4 L384.0,323.0 L394.0,324.4 L408.0,321.4 L424.0,317.4 L440.0,314.6 L460.0,313.6 L482.4,313.4 M482.0,235.0 L482.4,313.4 L486.0,315.0 L493.0,324.0 L489.0,337.0 L483.0,348.0 L478.0,355.0 L481.0,361.0 L482.4,367.0 L482.2,372.1 L482.2,419.5 M502.4,235.0 L502.4,261.0 L508.0,273.0 L518.0,281.0 L526.0,291.0 L538.0,296.0 L537.0,309.0 L534.0,323.0 L537.0,327.4 L546.0,323.0 L552.0,333.0 L558.0,343.0 L566.0,349.0 L569.0,357.4 L580.0,353.4 L596.0,352.0 L600.0,348.0 L605.0,350.0 L608.0,354.2 M330.0,419.0 L608.1,419.5 M419.7,419.5 L419.7,498.6 L532.7,604.0 M545.1,419.5 L545.1,572.4 L544.0,577.0 L532.0,577.0 L530.0,587.0 L532.0,601.0 L535.0,611.0 L543.0,623.0 L536.0,631.0 L533.0,641.0 L530.0,651.0 L536.0,659.0 L532.0,664.0 L529.0,670.0 M545.1,551.3 L953.9,551.3 M608.1,340.4 L608.1,445.9 M608.1,340.4 L755.4,340.4 M755.4,235.0 L755.4,445.9 M608.1,445.9 L797.5,445.9 M650.2,445.9 L650.2,700.8 M797.5,445.9 L797.5,551.3 M797.5,472.2 L940.0,472.6 M755.4,315.7 L913.0,315.6 M755.4,393.2 L872.0,394.0 L882.0,399.0 L896.0,398.0 L910.0,402.0 L917.0,409.0 M777.5,551.3 L776.4,683.1 M777.5,564.5 L840.6,564.5 L840.6,615.6 L847.4,619.9 L853.9,619.1 L858.8,624.7 L870.1,627.2 L879.8,627.2 L884.7,633.6 L889.5,632.0 L899.2,637.7 L904.1,632.8 L917.1,639.3 L926.8,633.6 L933.3,632.0 L941.3,632.0 L949.4,636.9 L955.9,640.1 L964.8,640.9 L965.6,655.5 M954.3,551.9 L954.3,564.8 L958.3,594.8 L956.7,640.1 M965.6,656.0 L1025.5,656.0 M965.6,655.5 L966.4,683.0 L972.0,695.0 L977.0,707.0 L975.0,723.0 L972.0,737.0 L973.0,726.0 L970.0,742.0 M776.4,683.1 L702.0,688.0 M913.0,315.6 L913.0,319.0 L907.0,324.0 L915.0,330.0 L915.6,379.0 L912.0,382.0 L915.0,393.0 L912.0,393.0 L915.0,401.0 L917.0,409.0 L922.0,421.0 L926.0,435.0 L928.0,449.0 L932.0,459.0 L938.0,471.0 L946.0,475.0 L948.0,479.0 L944.0,484.0 L950.0,493.0 L954.0,495.0 L953.9,564.5 M899.0,235.0 L901.0,245.0 L903.0,261.0 L907.0,275.0 L909.0,295.0 L912.0,309.0 L913.0,315.6 M915.6,380.0 L1026.0,380.0 M932.0,457.4 L1018.0,457.0 L1021.0,461.0 M954.3,564.8 L1049.8,564.8 L1051.5,569.7 L1042.5,578.3 L1056.3,578.3 M1004.0,294.6 L1002.0,311.0 L992.0,318.0 L989.0,324.0 L995.0,330.0 L992.0,345.0 L1000.0,353.0 L1012.0,359.0 L1020.0,367.0 L1026.0,375.0 L1027.0,385.0 L1030.0,393.0 L1029.0,393.0 L1032.0,401.0 L1044.0,409.0 L1048.0,419.0 L1044.0,431.0 L1030.0,435.0 L1028.0,445.0 L1026.0,453.0 L1020.0,459.0 L1021.0,473.0 L1026.0,483.0 L1036.0,493.0 L1038.0,501.0 L1048.0,503.0 L1048.0,513.0 L1044.0,519.0 L1052.0,527.0 L1060.0,533.0 L1064.0,543.0 L1068.0,551.0 L1061.2,534.9 L1063.6,544.6 L1069.3,552.7 L1068.5,560.0 L1061.2,562.4 L1058.7,572.1 L1059.5,578.6 L1053.1,586.7 L1048.2,594.8 L1049.8,601.2 L1045.0,606.1 L1038.5,614.2 L1033.6,623.9 L1028.8,630.4 L1025.5,640.1 L1025.5,649.8 L1027.2,657.9 L1030.0,665.0 L1031.0,675.0 L1026.0,683.0 L1022.0,693.0 L1018.0,703.0 L1018.0,710.0 L1056.0,710.0 L1057.0,719.0 L1060.0,729.0 L1064.0,733.0 M1045.4,405.5 L1097.4,405.5 M1038.5,296.5 L1048.0,302.0 L1060.0,307.7 L1071.2,310.5 L1082.4,313.8 L1090.3,316.1 L1094.8,322.8 L1095.9,329.5 L1099.3,332.9 L1100.9,338.5 M1103.7,427.4 L1103.0,495.0 L1104.0,505.0 L1098.0,517.0 L1094.0,525.0 L1091.0,533.0 M1104.9,424.0 L1162.0,424.0 L1162.0,424.9 L1189.7,426.2 M1162.0,424.0 L1161.0,497.0 M1069.3,552.7 L1074.1,546.2 L1083.8,547.8 L1090.3,538.1 L1100.0,530.0 L1100.0,527.0 L1110.0,530.0 L1120.0,527.0 L1130.0,521.0 L1140.0,519.0 L1148.0,509.0 L1158.0,506.0 L1161.0,497.0 L1170.0,498.0 L1176.0,505.0 L1186.0,509.0 L1198.0,507.0 L1207.0,516.0 L1210.0,515.0 L1216.0,511.0 L1219.0,503.0 L1224.0,497.0 L1228.0,489.0 L1240.0,479.0 L1248.0,469.0 L1249.0,455.0 L1250.6,453.0 M1064.4,564.5 L1093.5,564.5 L1093.5,560.8 L1100.0,560.3 L1186.0,562.0 L1226.0,563.0 L1348.0,563.0 M1049.8,604.8 L1100.0,604.8 L1170.0,604.0 L1192.0,609.0 M1092.0,604.0 L1084.0,711.0 L1086.0,729.0 M1145.0,604.6 L1150.0,641.0 L1157.0,679.0 L1153.0,691.0 L1154.0,709.0 L1158.0,719.0 M1101.0,712.0 L1104.0,723.0 L1107.0,726.0 M1101.0,711.0 L1154.0,709.0 L1158.0,719.0 L1217.0,721.0 L1217.0,727.0 L1220.0,725.0 L1221.0,715.0 L1229.0,716.0 L1232.0,711.0 M1170.0,604.0 L1171.0,597.0 L1178.0,591.0 L1190.0,588.0 L1200.0,580.0 L1208.0,575.0 L1220.0,571.0 L1226.0,563.0 M1191.0,609.0 L1192.0,612.0 L1202.0,619.0 L1208.0,631.0 L1216.0,643.0 L1226.0,655.0 L1232.0,665.0 L1238.0,677.0 L1240.0,685.0 M1192.4,609.4 L1210.0,599.0 L1240.0,600.0 L1246.0,608.0 L1270.0,609.0 L1292.0,633.4 M1207.0,516.0 L1209.0,529.0 L1218.0,539.0 L1224.0,546.0 L1232.0,547.0 L1244.0,542.0 L1254.0,540.0 L1260.0,531.0 L1266.0,523.0 L1268.0,513.0 L1274.0,515.0 L1280.0,507.0 L1288.0,501.0 L1294.0,491.0 L1296.1,486.1 L1302.2,489.2 L1309.1,493.0 M1220.0,543.0 L1204.0,551.0 L1196.0,559.0 L1186.0,562.0 M1250.6,419.5 L1250.6,479.6 M1266.0,413.0 L1266.6,419.5 M1266.6,419.5 L1362.0,419.0 L1368.0,429.0 L1372.0,436.0 L1365.0,446.0 L1364.0,453.0 L1370.0,461.0 L1374.0,469.0 L1366.0,473.0 L1360.0,477.0 L1354.0,478.0 M1250.6,479.6 L1354.5,479.6 M1250.6,453.0 L1250.6,480.0 M1272.3,479.6 L1272.3,493.8 L1294.5,482.2 L1303.0,480.7 L1309.1,485.3 L1309.1,493.0 L1313.0,493.8 L1316.1,492.2 L1322.2,498.4 L1327.6,499.9 L1326.8,506.1 L1319.9,509.1 L1317.6,513.7 L1320.7,516.8 M1354.5,479.6 L1352.9,484.5 L1352.2,512.2 L1364.4,512.2 M1371.4,436.6 L1392.0,447.3 M1401.9,339.7 L1400.1,355.9 L1399.2,366.6 L1401.9,377.4 L1403.7,391.7 L1403.7,400.7 L1402.8,418.6 L1401.0,419.5 L1397.4,443.7 M1440.4,339.7 L1438.6,350.5 L1429.7,357.7 L1426.1,368.4 L1421.6,381.0 L1418.9,391.7 L1417.1,399.8 M1450.7,330.8 L1453.9,379.2 L1456.6,390.8 L1455.7,395.3 M1403.7,400.2 L1445.8,399.8 L1451.2,397.1 L1455.7,395.3 M1401.0,419.0 L1445.8,418.6 L1446.7,427.6 L1449.4,432.1 M1434.5,419.0 L1434.5,436.6 M1332.0,571.0 L1340.0,575.0 L1348.0,573.0 L1352.0,579.0 L1344.0,583.0 L1350.0,587.0 L1342.0,591.0 L1326.0,591.0 L1336.0,595.0 L1342.0,597.0 L1332.0,601.0 L1326.0,599.0 L1330.0,605.0 L1340.0,605.0 L1334.0,609.0 L1320.0,611.0 L1316.0,613.0"/>
</g>
<path fill="#000" stroke="#000" stroke-width="1.5" stroke-linejoin="round" d="M352.4,245.0 L356.0,241.4 L362.0,240.6 L366.0,243.0 L369.0,245.0 L370.0,250.0 L369.0,254.0 L367.0,255.4 L369.6,258.0 L372.4,260.0 L374.4,263.4 L373.2,267.4 L370.4,270.0 L372.4,274.0 L372.0,279.0 L368.4,282.2 L364.4,285.0 L360.0,288.2 L356.0,287.0 L353.6,283.0 L353.0,278.0 L356.0,274.0 L359.0,271.0 L363.0,268.0 L366.0,265.0 L365.0,260.6 L362.0,257.8 L359.0,256.0 L355.0,253.0 L352.4,249.0Z"/>
<path fill="#000" d="M1142.6,336.0 L1147.6,333.8 L1150.5,337.4 L1149.8,344.6 L1146.9,348.5 L1143.3,346.7 L1141.9,341.0Z"/>
<path fill="none" stroke="#000" stroke-width="4.5" stroke-linecap="round" stroke-linejoin="round" d="M1463.7,427.6 L1469.5,426.5 L1474.1,424.9 L1474.9,420.8 L1472.4,418.3 L1468.4,418.3"/>
<path fill="#000" d="M1469.5,436.6 L1473.6,435.7 L1474.9,438.7 L1472.4,441.2 L1469.1,439.8Z"/>
<path fill="#000" d="M1454.8,436.2 L1459.8,434.8 L1462.0,437.5 L1458.4,439.8 L1455.1,438.7Z"/>
<path fill="#0000cd" d="M1438.3,440.5 L1441.5,440.5 L1441.5,443.7 L1438.3,443.7Z"/>
<path fill="#000" d="M1113.8,316.6 L1118.3,315.8 L1122.8,316.6 L1126.4,318.3 L1125.9,322.2 L1122.8,325.3 L1118.9,324.5 L1116.1,321.7Z"/>
<path fill="none" stroke="#000" stroke-width="6" stroke-linecap="round" stroke-linejoin="round" d="M1094.8,348.6 L1100.4,343.5 L1107.1,337.9 L1113.8,333.5"/>
<path fill="#b3b3b3" d="M1066.7,264.5 L1071.2,261.7 L1082.4,258.9 L1083.6,260.6 L1073.5,265.0 L1069.0,267.3Z"/>
<path fill="#b3b3b3" d="M1173.3,300.4 L1176.6,300.4 L1176.6,309.3 L1173.5,309.3Z"/>
<path fill="#0064ea" d="M1141.3,320.6 L1145.2,319.2 L1148.8,320.6 L1147.5,325.0 L1143.5,326.2 L1141.6,323.9Z"/>
<path fill="#0064ea" d="M1137.4,328.4 L1140.2,327.3 L1140.7,330.7 L1138.5,332.0Z"/>
<path fill="#0064ea" d="M1131.8,337.4 L1135.1,335.1 L1136.5,339.1 L1133.5,341.0Z"/>
<path fill="#0064ea" d="M1164.9,316.6 L1169.3,316.6 L1169.9,320.6 L1165.4,320.6Z"/>
<path fill="#000" d="M1201.0,788.4 L1206.0,787.0 L1211.6,790.0 L1212.4,795.0 L1209.0,798.4 L1204.4,797.6 L1201.6,794.0Z"/>
<path fill="#000" d="M1212.4,814.4 L1218.4,815.0 L1220.4,819.6 L1217.0,822.4 L1213.2,820.0Z"/>
<path fill="#000" d="M1236.0,858.4 L1241.0,857.0 L1244.4,861.0 L1242.4,865.0 L1237.6,865.4Z"/>
<path fill="none" stroke="#e5e5e5" stroke-width="2" stroke-dasharray="5 4" d="M1200.0,879.2 L1216.0,879.6 L1232.0,875.6 L1246.0,871.0 L1256.0,864.0"/>
<path fill="#000" d="M366.0,519.4 L372.0,518.0 L377.0,523.0 L375.6,531.0 L379.0,537.0 L377.0,540.6 L372.0,538.6 L370.0,533.0 L367.6,527.0Z"/>
<path fill="#0032dc" d="M409.6,628.6 L420.0,627.8 L432.0,629.0 L431.6,631.6 L420.0,631.0 L410.0,631.4Z"/>
<path fill="#0000cd" d="M428.0,649.0 L432.0,649.4 L432.0,653.4 L428.4,653.0Z"/>
<path fill="#0094f5" d="M448.4,644.6 L451.2,644.2 L455.0,649.0 L452.4,649.8Z"/>
<path fill="#0094f5" d="M448.0,656.0 L450.4,655.0 L455.0,662.6 L452.4,663.4Z"/>
<path fill="none" stroke="#000" stroke-width="5" stroke-linecap="round" stroke-linejoin="round" d="M1347.0,484.3 L1342.7,495.4 L1339.3,505.7 L1340.2,516.9 L1337.6,526.3 L1341.0,536.6"/>
<path fill="none" stroke="#000" stroke-width="4" stroke-linecap="round" stroke-linejoin="round" d="M1321.3,516.9 L1331.6,522.9 L1339.3,529.7 M1326.4,533.2 L1335.0,538.3 L1341.9,543.5 M1324.7,546.0 L1335.0,550.3 L1344.5,552.0"/>
<path fill="none" stroke="#000" stroke-width="3.2" stroke-linecap="round" stroke-linejoin="round" d="M1331.6,569.2 L1341.9,573.5 L1348.7,570.9 L1352.2,577.8 L1343.6,581.2 L1350.5,586.3 L1340.2,591.5 L1326.4,591.5 L1338.5,598.4 L1345.3,600.1 L1331.6,603.5 L1324.7,601.8 L1329.9,607.8 L1340.2,607.8"/>
<path fill="none" stroke="#000" stroke-width="5.5" stroke-linecap="round" stroke-linejoin="round" d="M889.0,803.6 L896.0,800.4 L894.4,794.4 L899.2,789.6 L901.2,784.4 L909.2,778.4 L910.0,773.2 L917.2,772.4"/>
<path fill="none" stroke="#000" stroke-width="3" stroke-linecap="round" stroke-linejoin="round" d="M902.4,840.0 L900.0,826.0 L897.6,812.0 L898.4,802.0 L905.0,794.0 L912.0,783.0 L922.0,776.0 L932.0,771.0 L942.0,765.0 L949.0,757.0"/>
<path fill="#000" d="M945.6,744.0 L950.0,739.6 L953.6,739.0 L953.0,746.0 L950.0,753.0 L946.4,752.0Z"/>
<path fill="none" stroke="#000" stroke-width="4" stroke-linecap="round" stroke-linejoin="round" d="M1042.0,731.0 L1048.0,726.4 L1058.0,728.0 L1060.0,733.0 L1052.0,735.6 L1044.0,734.0 L1042.0,731.0"/>
<path fill="none" stroke="#000" stroke-width="5" stroke-linecap="round" stroke-linejoin="round" d="M1060.0,734.0 L1067.0,736.0 L1069.0,744.0 L1064.0,749.0 L1069.0,754.0 L1071.0,761.0 L1065.0,763.0"/>
<path fill="none" stroke="#000" stroke-width="3.5" stroke-linecap="round" stroke-linejoin="round" d="M1004.0,744.0 L1010.0,741.0 L1016.0,744.0"/>
</svg></body></html>
